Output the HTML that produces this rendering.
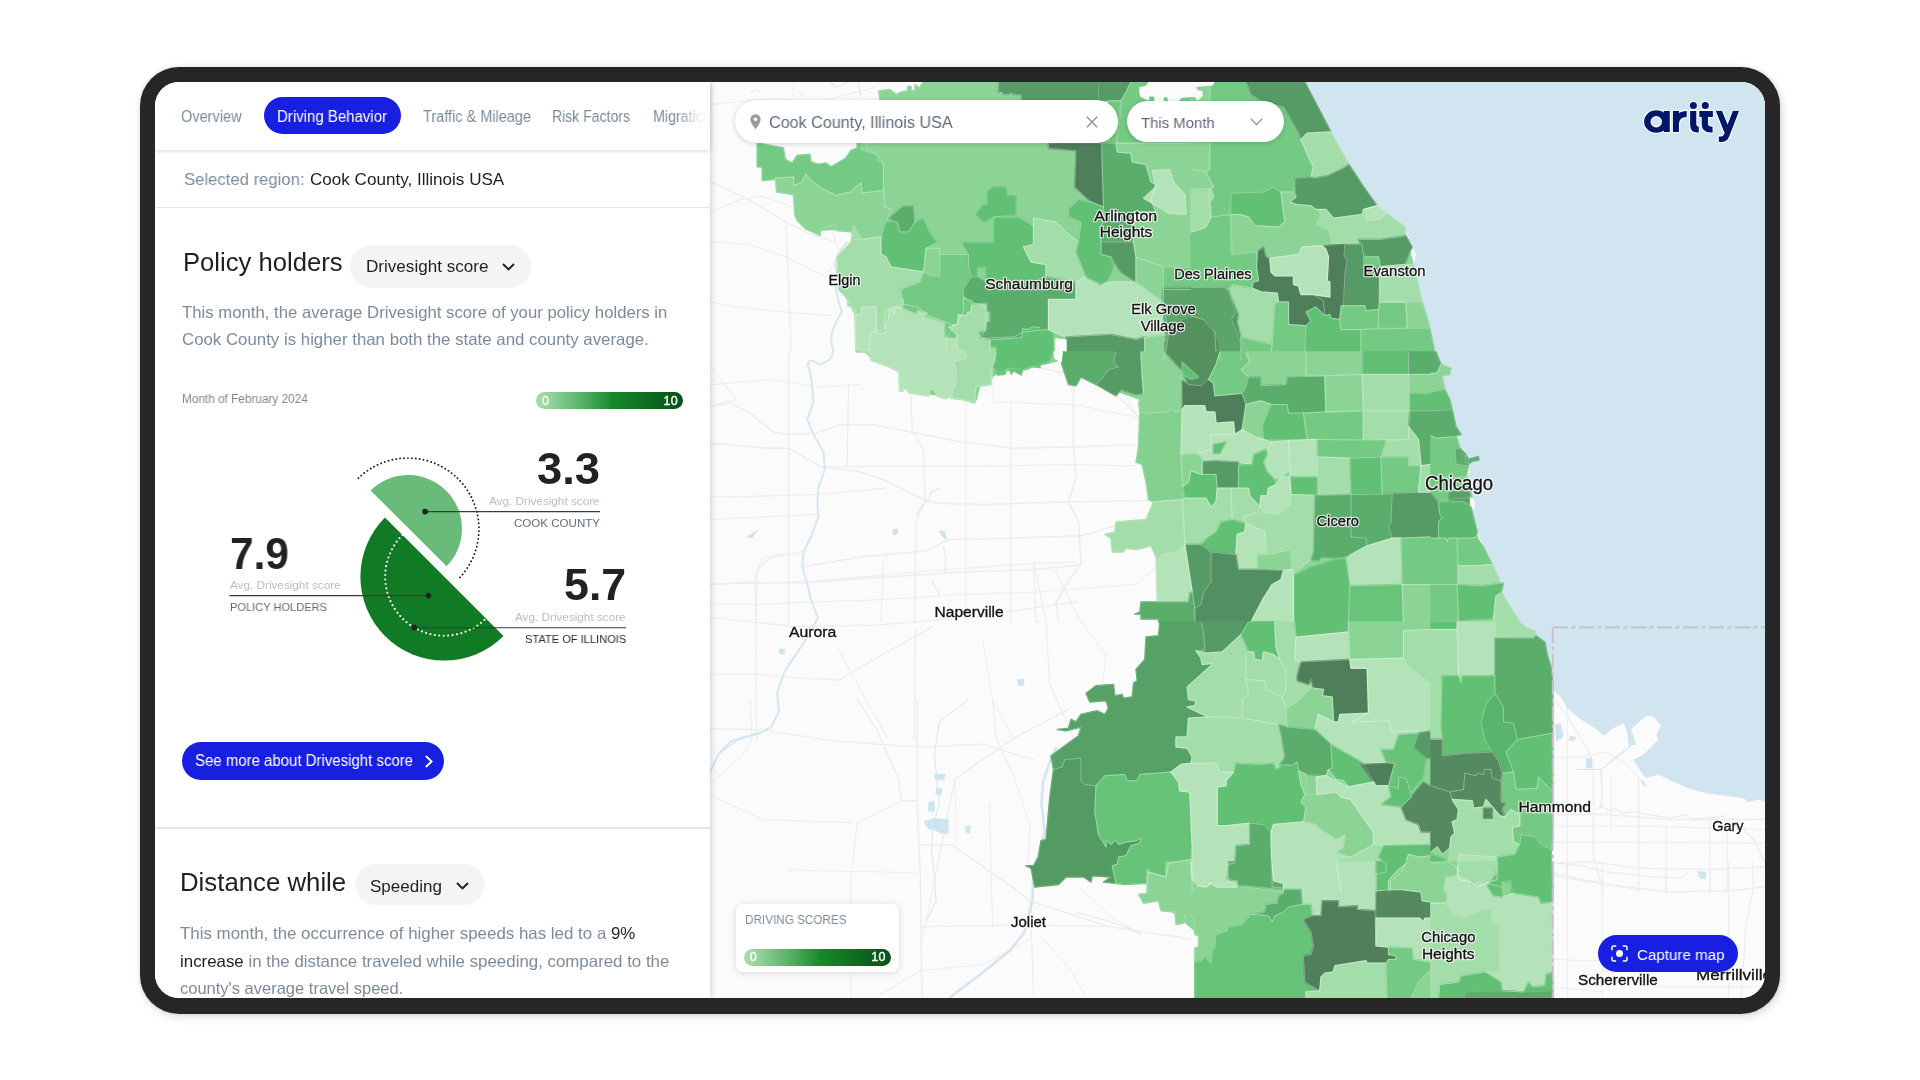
<!DOCTYPE html>
<html lang="en">
<head>
<meta charset="utf-8">
<title>Arity - Driving Behavior</title>
<style>
*{box-sizing:border-box;margin:0;padding:0}
html,body{width:1920px;height:1080px;overflow:hidden;background:#fff;font-family:"Liberation Sans",sans-serif;}
#device{position:absolute;left:140px;top:67px;width:1640px;height:947px;background:#262626;border-radius:39px;box-shadow:2px 3px 10px rgba(0,0,0,.13),0 0 4px rgba(0,0,0,.10);}
#screen{position:absolute;left:15px;top:15px;width:1610px;height:916px;border-radius:24px;overflow:hidden;background:#fafafa;}
#panel{position:absolute;left:0;top:0;width:555px;height:916px;background:#fff;z-index:5;box-shadow:1px 0 7px rgba(0,0,0,.19);}
#tabs{position:absolute;left:0;top:0;width:555px;height:68px;background:#fff;box-shadow:0 1px 4px rgba(0,0,0,.17);z-index:2;overflow:hidden;}
#tabpill{position:absolute;left:109px;top:15px;width:137px;height:37px;border-radius:19px;background:#1720e0;}
#tabfade{position:absolute;right:0;top:0;width:34px;height:66px;background:linear-gradient(90deg,rgba(255,255,255,0),rgba(255,255,255,.95) 80%);}
.t{position:absolute;white-space:nowrap;will-change:transform;}
.hr{position:absolute;left:0;width:555px;height:1.5px;background:#e4e6e9;}
.pill{position:absolute;background:#f4f4f4;border-radius:22px;}
.grad{position:absolute;width:147px;height:17px;border-radius:9px;background:linear-gradient(90deg,#a6dfa8 0%,#8fd096 12%,#4fae62 33%,#168a2a 52%,#107424 70%,#0b5a1b 90%,#0a5219 100%);}
.grad span{position:absolute;top:1.500px;font-size:12.500px;line-height:14px;color:#fff;-webkit-text-stroke:.35px #fff;letter-spacing:.3px}
.btn{position:absolute;background:#1720e0;border-radius:20px;}
#map{position:absolute;left:555px;top:0;width:1055px;height:916px;background:#fbfbfb;overflow:hidden;}
#map svg.base{position:absolute;left:0;top:0;will-change:transform;}
.ml{font-family:"Liberation Sans",sans-serif;fill:#161616;stroke:#fff;stroke-width:2.6px;paint-order:stroke;stroke-linejoin:round;text-anchor:middle;font-size:15.5px;}
.ov{position:absolute;background:#fff;box-shadow:0 1px 5px rgba(0,0,0,.18);}
</style>
</head>
<body>
<div id="device">
<div id="screen">

<div id="map">
<svg class="base" width="1055" height="916" viewBox="710 82 1055 916">
<g fill="none" stroke="#ececec" stroke-linejoin="round" stroke-linecap="round">
<path d="M711.0 405.8L729.8 403.2L748.5 412.0L773.5 432.0L788.5 434.5L816.0 433.2L841.0 424.5L871.0 424.5L911.0 432.0L961.0 442.0L1011.0 448.2L1073.5 447.0L1136.0 444.5" stroke-width="1.4"/>
<path d="M711.0 443.2L768.5 448.2L788.5 448.2L821.0 467.0L861.0 472.0L886.0 480.8L923.5 499.5L936.0 503.2L986.0 504.5L1061.0 502.0L1148.5 500.8" stroke-width="1.4"/>
<path d="M821.0 467.0L923.5 465.8L986.0 465.8L1073.5 464.5L1136.0 465.8" stroke-width="1.2"/>
<path d="M711.0 584.5L736.0 583.2L811.0 582.0L886.0 577.0L961.0 572.0L1036.0 569.5L1081.0 564.5" stroke-width="1.5"/>
<path d="M801.0 567.0L861.0 557.0L926.0 550.8L948.5 539.5L1011.0 538.2L1081.0 535.8L1111.0 527.0L1121.0 522.0" stroke-width="1.4"/>
<path d="M788.5 352.0L788.5 622.0" stroke-width="1.3"/>
<path d="M923.5 449.5L924.8 502.0L916.0 522.0L914.8 622.0" stroke-width="1.3"/>
<path d="M1073.5 387.0L1073.5 447.0L1076.0 477.0L1068.5 502.0L1078.5 522.0L1081.0 564.5L1071.0 577.0L1056.0 602.0L1058.5 622.0" stroke-width="1.5"/>
<path d="M911.0 392.0L912.2 432.0L923.5 449.5" stroke-width="1.2"/>
<path d="M848.5 384.5L847.2 467.0" stroke-width="1.2"/>
<path d="M1141.0 419.5L1111.0 389.5L1081.0 377.0L1036.0 367.0" stroke-width="1.3"/>
<path d="M711.0 497.0L771.0 495.8L816.0 494.5L886.0 488.2" stroke-width="1.2"/>
<path d="M711.0 519.5L761.0 517.0L816.0 514.5" stroke-width="1.2"/>
<path d="M966.0 397.0L966.0 622.0" stroke-width="1.0"/>
<path d="M1011.0 402.0L1011.0 622.0" stroke-width="1.0"/>
<path d="M1033.5 562.0L1036.0 622.0L1041.0 622.0" stroke-width="1.2"/>
<path d="M711.0 604.5L756.0 604.5L811.0 602.0L886.0 599.5L961.0 594.5L1036.0 592.0L1136.0 584.5L1156.0 567.0" stroke-width="1.0"/>
<path d="M756.0 622.0L757.2 569.5L771.0 557.0L801.0 554.5" stroke-width="1.2"/>
<path d="M711.0 367.0L736.0 399.5L711.0 405.8" stroke-width="1.0"/>
<path d="M711.0 384.5L773.5 379.5L821.0 387.0L861.0 384.5" stroke-width="1.0"/>
<path d="M881.0 622.0L883.5 559.5L891.0 552.0" stroke-width="1.0"/>
<path d="M1121.0 387.0L1136.0 414.5L1138.5 422.0" stroke-width="1.0"/>
<path d="M993.5 369.5L993.5 402.0L1073.5 404.5L1136.0 417.0" stroke-width="1.0"/>
<path d="M711.0 182.0L748.5 199.5L786.0 222.0L811.0 234.5L836.0 242.0" stroke-width="1.3"/>
<path d="M711.0 212.0L741.0 199.5L761.0 195.8L793.5 207.0" stroke-width="1.0"/>
<path d="M711.0 242.0L748.5 244.5L786.0 257.0L816.0 272.0L836.0 282.0" stroke-width="1.0"/>
<path d="M786.0 222.0L788.5 282.0L791.0 352.0" stroke-width="1.3"/>
<path d="M793.5 97.0L793.5 82.0" stroke-width="1.0"/>
<path d="M711.0 104.5L761.0 99.5L823.5 100.8L876.0 87.0" stroke-width="1.0"/>
<path d="M711.0 302.0L736.0 307.0L786.0 312.0L831.0 315.8" stroke-width="1.0"/>
<path d="M823.5 100.8L821.0 132.0" stroke-width="1.0"/>
<path d="M831.0 227.0L836.0 242.0L841.0 257.0L828.5 272.0" stroke-width="1.0"/>
<path d="M700.0 728.3L763.0 729.9L832.2 740.9L920.3 747.2L983.3 744.1L1033.6 759.8" stroke-width="1.3"/>
<path d="M917.2 700.0L917.2 800.7L920.3 876.3L921.9 999.0" stroke-width="1.4"/>
<path d="M939.2 857.4L955.0 778.7L1014.8 737.8L1068.3 709.4" stroke-width="1.3"/>
<path d="M857.4 700.0L876.3 728.3L898.3 778.7L901.4 800.7L917.2 800.7" stroke-width="1.2"/>
<path d="M901.4 800.7L857.4 822.8L851.1 876.3L851.1 999.0" stroke-width="1.0"/>
<path d="M920.3 844.8L951.8 844.8L1014.8 888.9L1030.5 901.4L1109.2 926.6L1191.0 939.2" stroke-width="1.3"/>
<path d="M709.4 794.4L763.0 819.6L851.1 822.8" stroke-width="1.0"/>
<path d="M920.3 926.6L1030.5 925.1L1109.2 926.6" stroke-width="1.2"/>
<path d="M920.3 970.7L983.3 964.4L1030.5 939.2" stroke-width="1.0"/>
<path d="M939.2 857.4L932.9 888.9L921.9 939.2" stroke-width="1.0"/>
<path d="M1030.5 901.4L1033.6 999.0" stroke-width="1.1"/>
<path d="M873.1 999.0L920.3 970.7" stroke-width="1.0"/>
<path d="M992.7 700.0L995.9 737.8L1014.8 778.7L1030.5 825.9L1027.4 863.7" stroke-width="1.0"/>
<path d="M750.4 700.0L751.9 740.9L740.9 756.7L712.6 781.8L700.0 791.3" stroke-width="1.0"/>
<path d="M1043.1 939.2L1071.4 970.7L1087.2 999.0" stroke-width="1.0"/>
<path d="M1080.9 888.9L1115.5 920.3L1140.7 932.9" stroke-width="1.0"/>
<path d="M788.1 870.0L851.1 871.5L917.2 872.5" stroke-width="0.9"/>
<path d="M955.0 778.7L956.5 847.9" stroke-width="0.9"/>
<path d="M989.6 803.9L991.2 876.3L992.7 926.6" stroke-width="0.9"/>
<path d="M709.4 617.2L794.4 626.6L876.3 625.1L932.9 620.3L1014.8 610.9L1077.7 601.4" stroke-width="1.2"/>
<path d="M737.8 582.6L803.9 582.6L920.3 571.5L1030.5 563.7L1077.7 562.1" stroke-width="1.2"/>
<path d="M756.7 739.9L755.1 576.3L763.0 557.4L803.9 551.1" stroke-width="1.0"/>
<path d="M838.5 648.7L863.7 695.9L888.9 739.9" stroke-width="1.0"/>
<path d="M915.6 629.8L914.0 739.9" stroke-width="1.2"/>
<path d="M1033.6 563.7L1046.2 620.3L1049.4 683.3L1074.6 739.9" stroke-width="1.1"/>
<path d="M1055.7 570.0L1077.7 617.2L1106.0 655.0L1102.9 683.3" stroke-width="1.0"/>
<path d="M785.0 677.0L838.5 680.1L876.3 658.1L932.9 626.6" stroke-width="1.1"/>
<path d="M983.3 642.4L992.7 702.2L1014.8 739.9" stroke-width="0.9"/>
<path d="M709.4 673.8L756.7 673.8L785.0 677.0" stroke-width="0.9"/>
<path d="M1552.8 814.5L1606.0 814.5L1668.5 819.5L1764.8 819.5" stroke-width="1.5"/>
<path d="M1552.8 757.0L1581.0 757.0L1606.0 752.0" stroke-width="1.0"/>
<path d="M1567.2 704.5L1567.2 892.0" stroke-width="1.0"/>
<path d="M1593.5 762.0L1593.5 857.0L1603.5 892.0" stroke-width="1.2"/>
<path d="M1638.5 777.0L1638.5 892.0" stroke-width="1.2"/>
<path d="M1666.0 825.8L1666.0 892.0" stroke-width="1.0"/>
<path d="M1709.8 819.5L1709.8 892.0" stroke-width="1.0"/>
<path d="M1727.2 827.0L1727.2 892.0" stroke-width="1.0"/>
<path d="M1556.0 702.0L1571.0 722.0L1586.0 747.0L1593.5 762.0" stroke-width="1.1"/>
<path d="M1552.8 825.8L1631.0 825.8L1764.8 829.5" stroke-width="1.0"/>
<path d="M1552.8 842.0L1764.8 843.2" stroke-width="1.0"/>
<path d="M1552.8 863.2L1593.5 862.0L1638.5 868.2L1706.0 869.5L1764.8 867.0" stroke-width="1.3"/>
<path d="M1552.8 875.8L1606.0 884.5L1638.5 889.5" stroke-width="1.0"/>
<path d="M1606.0 752.0L1623.5 762.0L1638.5 777.0" stroke-width="1.0"/>
<path d="M1743.5 829.5L1756.0 842.0L1764.8 862.0" stroke-width="1.2"/>
<path d="M1611.0 774.5L1611.0 829.5" stroke-width="0.9"/>
<path d="M1552.8 873.2L1606.0 884.5L1668.5 892.0L1731.0 890.8L1764.8 887.0" stroke-width="1.5"/>
<path d="M1567.2 862.0L1567.2 999.0" stroke-width="1.0"/>
<path d="M1602.2 862.0L1602.2 999.0" stroke-width="1.2"/>
<path d="M1638.5 862.0L1638.5 892.0" stroke-width="1.0"/>
<path d="M1666.0 862.0L1666.0 892.0" stroke-width="1.0"/>
<path d="M1709.8 862.0L1709.8 892.0" stroke-width="1.0"/>
<path d="M1728.5 862.0L1728.5 999.0" stroke-width="1.0"/>
<path d="M1752.2 862.0L1753.5 887.0L1746.0 924.5L1741.0 999.0" stroke-width="1.2"/>
<path d="M1552.8 959.5L1598.5 960.8" stroke-width="1.0"/>
<path d="M1656.0 987.0L1764.8 987.0" stroke-width="1.0"/>
<path d="M1552.8 987.0L1602.2 992.0" stroke-width="0.9"/>
</g>
<g fill="none" stroke="#d3e6f2" stroke-linejoin="round" stroke-linecap="round">
<path d="M847.0 242.0L838.0 254.0L835.0 262.0L836.0 272.0L836.0 290.0L838.0 300.0L842.0 312.0L836.0 322.0L832.0 332.0L831.3 341.0L833.0 350.0L832.3 356.0L828.5 360.5L820.6 364.5L813.8 361.3L809.6 360.6L807.5 365.0L810.0 372.0L811.5 380.0L813.5 402.0L807.3 419.5L813.5 434.5L823.5 452.0L824.8 469.5L818.5 487.0L817.3 502.0L818.5 517.0L811.0 537.0L803.5 552.0L802.3 567.0L807.3 584.5L811.0 599.5L818.0 618.0L810.0 632.0L803.9 642.4L785.0 670.7L777.1 692.7L779.0 711.6L770.8 727.3L760.0 733.0L747.2 736.8L731.5 741.0L718.9 753.5L710.0 772.0" stroke-width="1.9"/>
<path d="M1056.0 748.0L1051.0 758.2L1043.1 781.8L1041.5 803.9L1044.7 832.2L1040.0 847.9L1033.7 870.0L1032.1 901.4L1028.0 920.0L1024.2 932.9L1008.5 951.8L977.0 977.0L951.8 995.9L948.0 1000.0" stroke-width="2.6"/>
<path d="M967.6 700.0L939.2 722.0L934.5 753.5L939.2 803.9L932.9 825.9L931.4 851.1L934.5 876.3L936.1 901.4L926.6 920.3" stroke-width="1.0"/>
<path d="M751.0 92.0L756.0 89.5L761.0 93.2" stroke-width="1.0"/>
<path d="M831.0 82.0L834.8 87.0L841.0 85.8L847.2 82.0" stroke-width="1.2"/>
<path d="M858.5 82.0L861.0 97.0" stroke-width="1.0"/>
<path d="M798.5 92.0L803.5 95.8" stroke-width="1.0"/>
<path d="M939.8 488.2L931.0 492.0L928.5 499.5L921.0 507.0L917.2 514.5" stroke-width="1.0"/>
<path d="M943.5 547.0L946.0 559.5L944.8 572.0" stroke-width="0.8"/>
<path d="M932.2 580.8L934.8 587.0L939.8 595.8" stroke-width="0.8"/>
<path d="M709.4 774.0L718.9 753.5L740.9 737.8L763.0 731.5" stroke-width="1.2"/>
<path d="M1077.7 912.5L1106.0 920.3L1124.9 926.6L1140.7 934.5" stroke-width="0.9"/>
<path d="M1606.0 765.8L1626.0 749.5L1631.0 745.8" stroke-width="1.2"/>
<path d="M1601.0 769.5L1602.2 797.0L1601.0 808.2" stroke-width="1.0"/>
<path d="M1577.2 769.5L1601.0 769.5L1606.0 765.8" stroke-width="1.0"/>
<path d="M1596.0 809.5L1602.2 805.8L1608.5 810.8L1616.0 808.2L1621.0 813.2L1636.0 812.0L1656.0 815.8L1671.0 818.2L1686.0 814.5L1691.0 819.5L1718.5 817.0L1726.0 815.8" stroke-width="0.9"/>
<path d="M1558.5 863.2L1581.0 865.8L1606.0 872.0L1631.0 874.5L1656.0 877.0L1681.0 878.2L1688.5 872.0" stroke-width="0.8"/>
</g>
<g fill="#cfe4f1">
<path d="M934.5 774.0L945.5 774.0L944.0 780.5L934.5 779.0Z"/>
<path d="M936.0 788.0L942.6 788.0L941.0 796.0L935.4 794.5Z"/>
<path d="M928.2 802.3L934.7 800.7L934.7 811.7L928.2 811.7Z"/>
<path d="M923.5 821.2L934.5 818.0L948.7 819.6L948.7 833.8L941.0 833.8L934.5 830.0L928.0 829.0Z"/>
<path d="M965.0 826.0L971.0 825.5L969.5 832.0L966.0 831.5Z"/>
<path d="M892.2 529.5L897.2 528.2L898.5 533.2L894.8 535.8L892.8 534.0Z"/>
<path d="M938.5 530.8L944.8 530.8L947.2 539.5L943.5 538.2Z"/>
<path d="M746.0 537.0L758.5 529.5L752.2 538.2Z"/>
<path d="M778.7 648.7L785.0 648.7L785.0 654.3L779.3 654.3Z"/>
<path d="M1017.3 679.5L1023.6 679.5L1023.6 685.8L1017.9 685.8Z"/>
<path d="M1017.2 679.0L1024.2 679.0L1024.2 685.0L1017.8 685.0Z"/>
<path d="M965.2 826.5L970.5 826.5L969.8 833.2L965.5 832.5Z"/>
<path d="M1554.8 724.5L1561.0 723.2L1563.5 737.0L1556.0 742.0Z"/>
<path d="M1569.8 735.8L1576.0 737.0L1574.8 740.8L1568.5 740.8Z"/>
<path d="M1586.0 758.2L1592.2 758.2L1592.2 768.2L1586.0 768.2Z"/>
<path d="M1697.2 870.8L1706.0 872.0L1706.0 879.5L1699.8 878.2Z"/>
<path d="M1639.8 779.5L1643.5 780.8L1647.2 787.0L1643.5 785.8Z"/>
</g>
<path d="M1304.8 82.0L1331.0 132.0L1348.5 164.5L1363.5 187.0L1377.2 205.8L1404.8 227.0L1412.2 247.0L1416.0 254.5L1413.5 264.5L1417.2 279.5L1422.2 302.0L1428.5 322.0L1434.8 352.0L1436.0 352.0L1441.0 364.5L1451.0 368.2L1449.8 374.5L1442.2 375.8L1444.8 389.5L1449.8 399.5L1452.2 412.0L1456.0 427.0L1461.0 434.5L1457.2 438.2L1459.8 448.2L1466.0 454.5L1468.5 459.5L1478.5 457.0L1478.5 460.8L1472.2 462.0L1468.5 467.0L1469.8 472.0L1466.0 477.0L1472.2 497.0L1474.8 502.0L1474.8 509.5L1472.2 508.2L1477.2 532.0L1483.5 547.0L1492.2 564.5L1498.5 577.0L1503.5 583.2L1501.0 593.2L1507.2 602.0L1513.5 612.0L1519.8 622.0L1527.2 628.2L1534.8 630.8L1536.0 635.8L1544.8 642.0L1547.2 654.5L1551.0 667.0L1552.8 682.0L1552.8 689.5L1561.0 697.0L1567.2 708.2L1581.0 719.5L1593.5 727.0L1603.5 735.8L1613.5 728.2L1623.5 723.2L1627.2 732.0L1628.5 745.8L1636.0 744.5L1631.0 729.5L1646.0 715.8L1653.5 717.0L1661.0 725.8L1656.0 734.5L1658.5 739.5L1643.5 754.5L1633.5 759.5L1641.0 772.0L1646.0 778.2L1658.5 774.5L1671.0 780.8L1688.5 788.2L1706.0 793.2L1726.0 795.8L1743.5 798.2L1748.5 802.0L1758.5 799.5L1766.0 802.0L1766.0 80.0L1304.0 80.0Z" fill="#d1e5f0"/>

<g stroke-width="1.4" stroke-linejoin="round">
<path d="M900.0 150.0L1290.0 90.0L1330.0 135.0L1375.0 205.0L1403.0 228.0L1412.0 260.0L1430.0 340.0L1442.0 385.0L1455.0 430.0L1464.0 478.0L1474.0 530.0L1490.0 565.0L1500.0 590.0L1517.0 621.0L1543.0 642.0L1551.0 680.0L1551.0 998.0L1200.0 998.0L1200.0 935.0L1165.0 905.0L1150.0 880.0L1125.0 875.0L1060.0 876.0L1040.0 880.0L1050.0 840.0L1057.0 770.0L1056.0 757.0L1081.0 737.0L1085.0 728.0L1100.0 716.0L1112.0 712.0L1117.0 698.0L1122.0 700.0L1135.0 699.0L1136.0 685.0L1140.0 682.0L1139.0 671.0L1147.0 660.0L1148.0 639.0L1160.0 637.0L1162.0 625.0L1160.0 560.0L1155.0 505.0L1145.0 465.0L1142.0 400.0L1120.0 392.0L1100.0 384.0L1060.0 360.0L1045.0 364.0L1000.0 372.0L980.0 384.0L976.0 400.0L930.0 394.0L902.0 388.0L900.0 372.0L872.0 358.0L858.0 345.0L856.0 315.0L842.0 290.0L840.0 258.0L853.0 242.0L856.0 228.0L822.0 230.0L808.0 228.0L797.0 214.0L796.0 196.0L778.0 190.0L778.0 180.0L764.0 178.0L764.0 168.0L760.0 166.0L760.0 146.0L782.0 149.0L786.0 160.0L793.0 165.0L798.0 157.0L809.0 156.0L811.0 163.0L819.0 166.0L826.0 165.0L831.0 168.0L847.0 160.0L852.0 152.0L859.0 149.0L859.0 146.0L900.0 146.0Z" fill="#8bd495" stroke="#8bd495"/>
<path d="M878.8 90.8L890.0 89.5L896.2 94.5L901.2 92.0L907.5 90.8L907.5 86.4L911.2 86.4L911.2 90.8L915.0 90.1L915.0 84.5L920.0 88.2L921.2 84.5L923.8 82.0L998.8 82.0L998.1 92.0L1002.5 92.6L1003.1 94.5L1008.8 94.5L1011.2 92.6L1013.1 94.5L1021.2 95.1L1021.2 100.8L880.0 100.8Z" fill="#8bd495" stroke="#8bd495"/>
<path d="M998.8 82.0L1100.0 82.0L1100.0 100.8L1021.2 100.8L1021.2 95.1L1013.1 94.5L1011.2 92.6L1008.8 94.5L1003.1 94.5L1002.5 92.6L998.1 92.0Z" fill="#569b65" stroke="#569b65"/>
<path d="M1098.5 82.0L1131.0 82.0L1126.0 92.0L1121.0 100.8L1098.5 100.8Z" fill="#569b65" stroke="#569b65"/>
<path d="M1108.5 100.8L1122.2 100.8L1117.2 143.2L1108.5 143.2Z" fill="#74ca82" stroke="#74ca82"/>
<path d="M1131.0 82.0L1191.0 82.0L1191.0 143.2L1116.0 143.2L1121.0 100.8L1126.0 92.0Z" fill="#74ca82" stroke="#74ca82"/>
<path d="M757.2 143.0L783.5 148.0L784.8 159.2L792.2 163.0L797.2 155.5L809.8 154.2L811.0 161.8L818.5 164.2L826.0 163.0L831.0 166.8L846.0 158.0L851.0 150.5L857.2 148.0L857.2 143.0L866.0 143.0L867.2 149.2L876.0 153.0L877.2 161.8L883.5 164.2L883.5 190.5L862.2 193.0L861.0 183.0L856.0 186.8L851.0 191.8L836.0 195.5L821.0 188.0L811.0 180.5L806.0 174.2L801.0 183.0L793.5 185.5L793.5 176.8L775.5 178.0L774.8 179.2L762.2 180.5L762.2 166.8L757.2 166.8Z" fill="#74ca82" stroke="#74ca82"/>
<path d="M775.5 178.2L793.5 177.0L793.5 185.5L801.0 183.0L806.0 174.2L811.0 180.5L821.0 188.0L836.0 195.5L851.0 191.8L856.0 186.8L861.0 183.0L862.2 193.0L883.5 190.5L884.8 207.0L891.0 209.5L886.0 222.0L881.0 237.0L861.0 239.5L854.8 239.2L851.0 231.8L836.0 230.5L836.0 224.2L821.0 229.2L820.2 235.5L806.0 229.2L797.2 220.5L794.8 215.5L793.5 194.5L776.5 192.0Z" fill="#8bd495" stroke="#8bd495"/>
<path d="M861.0 143.2L1048.5 143.2L1048.5 148.2L1076.0 150.8L1074.8 187.0L1091.0 202.0L1078.5 199.5L1068.5 209.5L1068.5 217.0L1081.0 222.0L1078.5 242.0L1066.0 232.0L1056.0 222.0L1033.5 218.2L1033.5 225.8L1018.5 217.0L993.5 217.0L993.5 242.0L961.0 242.0L968.5 254.5L939.8 254.5L939.8 248.2L926.0 248.2L937.2 242.0L931.0 234.5L923.5 218.2L914.8 222.0L913.5 205.8L903.5 205.8L888.5 218.2L891.0 209.5L884.8 207.0L883.5 192.0L883.5 164.5L877.2 154.5L861.0 149.5Z" fill="#8bd495" stroke="#8bd495"/>
<path d="M888.5 218.2L903.5 205.8L913.5 205.8L914.8 222.0L908.5 232.0L899.8 232.0L897.2 222.0Z" fill="#5aad6b" stroke="#5aad6b"/>
<path d="M886.0 222.0L897.2 222.0L899.8 232.0L908.5 232.0L914.8 222.0L923.5 218.2L931.0 234.5L937.2 242.0L926.0 248.2L923.5 272.0L891.0 267.0L886.0 257.0L881.0 254.5L881.0 237.0Z" fill="#62c074" stroke="#62c074"/>
<path d="M926.0 248.2L939.8 248.2L939.8 275.8L931.0 275.8L923.5 272.0Z" fill="#8bd495" stroke="#8bd495"/>
<path d="M837.2 257.0L851.0 242.0L853.5 225.8L861.0 239.5L881.0 237.0L881.0 254.5L886.0 257.0L891.0 267.0L923.5 272.0L919.8 282.0L901.0 289.5L903.5 304.5L886.0 309.5L883.5 329.5L871.0 332.0L868.5 352.0L856.0 352.0L854.8 314.5L848.0 299.5L838.5 289.5Z" fill="#a3ddaa" stroke="#a3ddaa"/>
<path d="M923.5 272.0L931.0 275.8L939.8 275.8L939.8 254.5L968.5 254.5L968.5 267.0L971.0 277.0L963.5 289.5L963.5 312.0L954.8 325.8L946.0 322.0L926.0 314.5L918.5 307.0L903.5 304.5L901.0 289.5L919.8 282.0Z" fill="#74ca82" stroke="#74ca82"/>
<path d="M961.0 242.0L993.5 242.0L993.5 217.0L1018.5 217.0L1033.5 225.8L1033.5 244.5L1023.5 247.0L1031.0 262.0L1046.0 264.5L1046.0 277.0L1031.0 282.0L986.0 282.0L986.0 267.0L977.2 267.0L977.2 277.0L971.0 277.0L968.5 267.0L968.5 254.5Z" fill="#62c074" stroke="#62c074"/>
<path d="M987.2 192.0L993.5 187.0L1006.0 187.0L1007.2 195.8L1016.0 195.8L1016.0 214.5L993.5 217.0L983.5 222.0L976.0 214.5L983.5 204.5L987.2 204.5Z" fill="#62c074" stroke="#62c074"/>
<path d="M1033.5 218.2L1056.0 222.0L1066.0 232.0L1078.5 242.0L1076.0 252.0L1086.0 277.0L1076.0 282.0L1046.0 277.0L1046.0 264.5L1031.0 262.0L1023.5 247.0L1033.5 244.5Z" fill="#a3ddaa" stroke="#a3ddaa"/>
<path d="M963.5 289.5L971.0 277.0L977.2 277.0L986.0 282.0L1031.0 282.0L1046.0 277.0L1076.0 282.0L1076.0 299.5L1048.5 299.5L1048.5 329.5L1023.5 332.0L1013.5 337.0L981.0 338.2L986.0 327.0L986.0 307.0L971.0 302.0L963.5 297.0Z" fill="#5aad6b" stroke="#5aad6b"/>
<path d="M981.0 338.2L1013.5 337.0L1023.5 332.0L1048.5 329.5L1053.5 332.0L1053.5 352.0L989.8 352.0L989.8 339.5Z" fill="#62c074" stroke="#62c074"/>
<path d="M1048.5 299.5L1076.0 299.5L1076.0 282.0L1086.0 277.0L1101.0 284.5L1111.0 282.0L1136.0 282.0L1163.5 302.0L1168.5 334.5L1136.0 339.5L1111.0 334.5L1066.0 337.0L1053.5 332.0L1048.5 329.5Z" fill="#b4e3b9" stroke="#b4e3b9"/>
<path d="M883.5 329.5L886.0 309.5L903.5 304.5L918.5 307.0L926.0 314.5L946.0 322.0L954.8 325.8L946.0 337.0L946.0 352.0L868.5 352.0L871.0 332.0Z" fill="#a3ddaa" stroke="#a3ddaa"/>
<path d="M954.8 325.8L963.5 312.0L963.5 297.0L971.0 302.0L986.0 307.0L986.0 327.0L981.0 338.2L989.8 339.5L989.8 352.0L946.0 352.0L946.0 337.0Z" fill="#8bd495" stroke="#8bd495"/>
<path d="M1048.5 143.2L1101.0 143.2L1102.2 164.5L1103.5 207.0L1091.0 202.0L1074.8 187.0L1076.0 150.8L1048.5 148.2Z" fill="#4f7e5b" stroke="#4f7e5b"/>
<path d="M1102.2 143.2L1116.0 143.2L1117.2 152.0L1131.0 153.2L1132.2 162.0L1146.0 164.5L1151.0 182.0L1156.0 184.5L1151.0 199.5L1156.0 212.0L1133.5 212.0L1133.5 242.0L1101.0 242.0L1103.5 207.0L1102.2 164.5Z" fill="#5aad6b" stroke="#5aad6b"/>
<path d="M1101.0 242.0L1133.5 242.0L1136.0 257.0L1136.0 282.0L1121.0 272.0L1111.0 257.0L1101.0 254.5Z" fill="#569b65" stroke="#569b65"/>
<path d="M1068.5 209.5L1078.5 199.5L1091.0 202.0L1103.5 207.0L1101.0 242.0L1101.0 254.5L1111.0 257.0L1113.5 267.0L1108.5 279.5L1101.0 284.5L1086.0 277.0L1076.0 252.0L1078.5 242.0L1081.0 222.0L1068.5 217.0Z" fill="#62c074" stroke="#62c074"/>
<path d="M1116.0 143.2L1191.0 143.2L1191.0 267.0L1163.5 267.0L1136.0 257.0L1133.5 242.0L1133.5 212.0L1156.0 212.0L1151.0 199.5L1156.0 184.5L1151.0 182.0L1146.0 164.5L1132.2 162.0L1131.0 153.2L1117.2 152.0Z" fill="#8bd495" stroke="#8bd495"/>
<path d="M1152.2 170.8L1169.8 169.5L1173.5 182.0L1184.8 194.5L1186.0 214.5L1168.5 213.2L1158.5 207.0L1143.5 198.2L1156.0 187.0Z" fill="#b4e3b9" stroke="#b4e3b9"/>
<path d="M1136.0 257.0L1163.5 267.0L1163.5 302.0L1136.0 282.0Z" fill="#8bd495" stroke="#8bd495"/>
<path d="M1163.5 267.0L1191.0 267.0L1191.0 289.5L1163.5 289.5Z" fill="#74ca82" stroke="#74ca82"/>
<path d="M1163.5 289.5L1191.0 289.5L1191.0 352.0L1166.0 352.0L1168.5 334.5L1163.5 302.0Z" fill="#569b65" stroke="#569b65"/>
<path d="M1066.0 337.0L1111.0 334.5L1136.0 339.5L1144.8 337.0L1144.8 352.0L1066.0 352.0Z" fill="#569b65" stroke="#569b65"/>
<path d="M1144.8 337.0L1168.5 334.5L1166.0 352.0L1144.8 352.0Z" fill="#8bd495" stroke="#8bd495"/>
<path d="M1055.5 339.0L1066.0 340.0L1066.0 352.0L1055.5 352.0Z" fill="#fbfbfb" stroke="#fbfbfb"/>
<path d="M1209.8 82.0L1246.0 82.0L1251.0 94.5L1261.0 100.8L1283.5 107.0L1298.5 133.2L1301.0 139.5L1308.5 157.0L1313.5 167.0L1311.0 177.0L1294.8 178.2L1293.5 192.0L1281.0 192.0L1273.5 187.0L1263.5 192.0L1231.0 193.2L1229.8 214.5L1211.0 217.0L1208.5 189.5L1213.5 187.0L1206.0 172.0L1209.8 169.5Z" fill="#74ca82" stroke="#74ca82"/>
<path d="M1191.0 82.0L1209.8 82.0L1209.8 169.5L1206.0 172.0L1191.0 169.5Z" fill="#8bd495" stroke="#8bd495"/>
<path d="M1246.0 82.0L1304.8 82.0L1331.0 132.0L1307.2 133.2L1301.0 139.5L1298.5 133.2L1283.5 107.0L1261.0 100.8L1251.0 94.5Z" fill="#569b65" stroke="#569b65"/>
<path d="M1307.2 133.2L1331.0 132.0L1348.5 164.5L1343.5 168.2L1327.2 175.8L1313.5 178.2L1311.0 177.0L1313.5 167.0L1308.5 157.0L1301.0 139.5Z" fill="#a3ddaa" stroke="#a3ddaa"/>
<path d="M1294.8 178.2L1311.0 177.0L1313.5 178.2L1327.2 175.8L1343.5 168.2L1348.5 164.5L1363.5 187.0L1377.2 205.8L1363.5 209.5L1362.2 214.5L1333.5 218.2L1326.0 209.5L1316.0 209.5L1311.0 205.8L1296.0 204.5L1289.8 202.0L1296.0 197.0Z" fill="#569b65" stroke="#569b65"/>
<path d="M1316.0 209.5L1326.0 209.5L1333.5 218.2L1362.2 214.5L1363.5 209.5L1377.2 205.8L1404.8 227.0L1406.0 235.8L1381.0 239.5L1358.5 239.5L1358.0 243.2L1332.2 243.2L1328.5 229.5L1316.0 224.5L1321.0 214.5Z" fill="#a3ddaa" stroke="#a3ddaa"/>
<path d="M1364.8 209.5L1377.2 205.8L1386.0 213.2L1381.0 218.2L1367.2 220.8Z" fill="#b4e3b9" stroke="#b4e3b9"/>
<path d="M1231.0 193.2L1263.5 192.0L1273.5 187.0L1281.0 192.0L1284.8 222.0L1278.5 227.0L1254.8 225.8L1248.5 217.0L1239.8 214.5L1231.0 214.5Z" fill="#62c074" stroke="#62c074"/>
<path d="M1281.0 192.0L1293.5 192.0L1296.0 197.0L1289.8 202.0L1296.0 204.5L1311.0 205.8L1316.0 209.5L1321.0 214.5L1316.0 224.5L1328.5 229.5L1332.2 243.2L1322.2 245.8L1302.2 247.0L1298.5 254.5L1269.8 258.2L1266.0 257.0L1263.5 247.0L1257.2 252.0L1232.2 254.5L1231.0 214.5L1239.8 214.5L1248.5 217.0L1254.8 225.8L1278.5 227.0L1284.8 222.0Z" fill="#8bd495" stroke="#8bd495"/>
<path d="M1358.0 239.5L1381.0 239.5L1406.0 235.8L1412.2 247.0L1408.5 254.5L1404.8 264.5L1381.0 265.8L1378.5 257.0L1363.5 255.8L1362.2 244.5Z" fill="#569b65" stroke="#569b65"/>
<path d="M1363.5 257.0L1378.5 257.0L1379.8 267.0L1363.5 267.0Z" fill="#74ca82" stroke="#74ca82"/>
<path d="M1344.8 244.5L1362.2 244.5L1363.5 255.8L1363.5 267.0L1379.8 267.0L1378.5 309.5L1366.0 310.8L1364.8 305.8L1343.5 305.8L1344.8 274.5L1347.2 258.2L1344.0 257.0Z" fill="#569b65" stroke="#569b65"/>
<path d="M1322.2 245.8L1344.8 244.5L1344.0 257.0L1347.2 258.2L1344.8 274.5L1343.5 305.8L1339.8 319.5L1331.0 318.2L1329.8 314.5L1324.8 315.8L1323.5 300.8L1313.5 294.5L1329.8 297.0L1329.8 282.0L1327.2 280.8L1328.5 257.0L1326.0 249.5Z" fill="#4f7e5b" stroke="#4f7e5b"/>
<path d="M1257.2 252.0L1263.5 247.0L1266.0 257.0L1269.8 258.2L1271.0 272.0L1274.8 275.8L1293.5 275.8L1293.5 284.5L1298.5 285.8L1301.0 294.5L1313.5 294.5L1323.5 300.8L1324.8 315.8L1316.0 307.0L1306.0 312.0L1311.0 320.8L1306.0 325.8L1288.5 324.5L1288.5 302.0L1278.5 302.0L1277.2 293.2L1261.0 292.0L1252.2 288.2L1253.0 282.0L1258.5 280.8L1256.5 267.0Z" fill="#4f7e5b" stroke="#4f7e5b"/>
<path d="M1269.8 258.2L1298.5 254.5L1302.2 247.0L1322.2 245.8L1326.0 249.5L1328.5 257.0L1327.2 280.8L1329.8 282.0L1329.8 297.0L1313.5 294.5L1301.0 294.5L1298.5 285.8L1293.5 284.5L1293.5 275.8L1274.8 275.8L1271.0 272.0Z" fill="#b4e3b9" stroke="#b4e3b9"/>
<path d="M1228.5 289.5L1232.2 284.5L1252.2 288.2L1261.0 292.0L1277.2 293.2L1278.5 302.0L1274.8 304.5L1272.2 344.5L1241.0 337.0L1237.2 322.0L1238.5 314.5L1232.2 299.5Z" fill="#a3ddaa" stroke="#a3ddaa"/>
<path d="M1274.8 304.5L1278.5 302.0L1288.5 302.0L1288.5 324.5L1306.0 325.8L1304.8 352.0L1271.0 352.0L1272.2 344.5Z" fill="#74ca82" stroke="#74ca82"/>
<path d="M1306.0 312.0L1316.0 307.0L1324.8 315.8L1329.8 314.5L1331.0 318.2L1339.8 319.5L1341.0 329.5L1361.0 329.5L1361.0 352.0L1304.8 352.0L1306.0 325.8L1311.0 320.8Z" fill="#62c074" stroke="#62c074"/>
<path d="M1341.0 305.8L1364.8 305.8L1366.0 310.8L1378.5 309.5L1378.5 328.2L1361.0 329.5L1341.0 329.5L1339.8 319.5Z" fill="#74ca82" stroke="#74ca82"/>
<path d="M1379.8 302.0L1406.0 302.0L1407.2 328.2L1378.5 328.2L1378.5 309.5Z" fill="#74ca82" stroke="#74ca82"/>
<path d="M1379.8 267.0L1404.8 264.5L1413.5 264.5L1417.2 279.5L1422.2 302.0L1406.0 302.0L1379.8 302.0Z" fill="#a3ddaa" stroke="#a3ddaa"/>
<path d="M1406.0 302.0L1422.2 302.0L1428.5 322.0L1429.8 328.2L1407.2 328.2Z" fill="#8bd495" stroke="#8bd495"/>
<path d="M1361.0 329.5L1407.2 328.2L1429.8 328.2L1434.8 352.0L1361.0 352.0Z" fill="#74ca82" stroke="#74ca82"/>
<path d="M1191.0 232.0L1206.0 227.0L1211.0 217.0L1229.8 214.5L1231.0 254.5L1232.2 254.5L1257.2 252.0L1256.5 267.0L1258.5 280.8L1253.0 282.0L1252.2 288.2L1232.2 284.5L1228.5 289.5L1223.5 287.0L1191.0 287.0Z" fill="#74ca82" stroke="#74ca82"/>
<path d="M1191.0 189.5L1211.0 188.2L1213.5 197.0L1209.8 202.0L1211.0 217.0L1206.0 227.0L1191.0 232.0Z" fill="#a3ddaa" stroke="#a3ddaa"/>
<path d="M1191.0 287.0L1223.5 287.0L1228.5 289.5L1232.2 299.5L1238.5 314.5L1237.2 322.0L1241.0 337.0L1241.0 352.0L1216.0 352.0L1214.8 332.0L1203.5 319.5L1191.0 315.8Z" fill="#569b65" stroke="#569b65"/>
<path d="M1191.0 315.8L1203.5 319.5L1214.8 332.0L1216.0 352.0L1191.0 352.0Z" fill="#4f7e5b" stroke="#4f7e5b"/>
<path d="M1241.0 337.0L1272.2 344.5L1271.0 352.0L1241.0 352.0Z" fill="#74ca82" stroke="#74ca82"/>
<path d="M1191.0 169.5L1206.0 172.0L1213.5 187.0L1208.5 189.5L1191.0 189.5Z" fill="#8bd495" stroke="#8bd495"/>
<path d="M1163.2 287.7L1224.4 286.7L1228.4 289.7L1235.6 313.2L1231.5 319.3L1240.7 343.7L1240.7 360.0L1162.2 360.0L1166.3 343.7L1162.2 298.9Z" fill="#5ba56b" stroke="#5ba56b"/>
<path d="M1165.3 360.0L1164.7 343.7L1170.4 329.4L1180.6 320.3L1192.8 316.2L1205.0 319.3L1213.2 327.4L1219.3 343.7L1220.3 360.0Z" fill="#54915f" stroke="#54915f"/>
<path d="M1140.0 87.6L1146.2 86.4L1149.4 82.0L1213.8 82.0L1212.5 84.8L1203.8 85.5L1195.6 86.4L1196.5 90.5L1201.9 92.0L1201.9 96.0L1197.8 99.8L1195.0 96.0L1181.9 97.0L1177.8 100.8L1168.5 100.8L1167.8 96.5L1163.1 96.5L1163.1 100.8L1155.0 100.8L1155.0 95.8L1149.0 95.8L1148.1 99.5L1141.2 96.4L1140.0 93.2Z" fill="#fbfbfb" stroke="#fbfbfb"/>
<path d="M951.0 352.0L996.0 352.0L992.2 367.0L991.0 384.5L976.0 387.0L973.5 400.8L951.0 398.2Z" fill="#a3ddaa" stroke="#a3ddaa"/>
<path d="M996.0 352.0L1053.5 352.0L1048.5 362.0L1023.5 369.5L1008.5 368.2L1001.0 373.2L992.2 367.0Z" fill="#62c074" stroke="#62c074"/>
<path d="M1062.2 352.0L1116.0 352.0L1113.5 362.0L1118.5 367.0L1108.5 369.5L1103.5 377.0L1096.0 384.5L1081.0 377.0L1076.0 385.8L1068.5 384.5L1061.0 362.0Z" fill="#5aad6b" stroke="#5aad6b"/>
<path d="M1116.0 352.0L1141.0 352.0L1142.2 377.0L1143.5 393.2L1136.0 394.5L1121.0 389.5L1116.0 395.8L1096.0 384.5L1103.5 377.0L1108.5 369.5L1118.5 367.0L1113.5 362.0Z" fill="#569b65" stroke="#569b65"/>
<path d="M1141.0 352.0L1164.8 352.0L1181.0 369.5L1182.2 409.5L1174.8 412.0L1171.0 408.2L1168.5 412.0L1146.0 413.2L1139.8 412.0L1138.5 402.0L1144.8 395.8L1143.5 393.2L1142.2 377.0Z" fill="#8bd495" stroke="#8bd495"/>
<path d="M1139.8 412.0L1146.0 413.2L1168.5 412.0L1171.0 408.2L1174.8 412.0L1182.2 409.5L1181.0 454.5L1183.5 484.5L1182.2 499.5L1153.5 502.0L1148.5 499.5L1146.0 482.0L1142.2 464.5L1136.0 462.0L1138.5 447.0Z" fill="#84d08f" stroke="#84d08f"/>
<path d="M1164.8 352.0L1219.8 352.0L1216.0 364.5L1208.5 379.5L1201.0 385.8L1188.5 384.5L1181.0 369.5Z" fill="#54915f" stroke="#54915f"/>
<path d="M1182.2 362.0L1198.5 377.0L1191.0 379.5L1182.2 374.5Z" fill="#62c074" stroke="#62c074"/>
<path d="M1182.2 380.8L1188.5 384.5L1201.0 385.8L1208.5 379.5L1213.5 383.2L1214.8 395.8L1242.2 393.2L1246.0 404.5L1242.2 429.5L1234.8 434.5L1233.5 422.0L1216.0 423.2L1214.8 412.0L1206.0 412.0L1204.8 405.8L1184.8 405.8L1182.2 409.5Z" fill="#4f7e5b" stroke="#4f7e5b"/>
<path d="M1219.8 352.0L1246.0 352.0L1249.8 362.0L1241.0 369.5L1248.5 377.0L1246.0 387.0L1242.2 393.2L1214.8 395.8L1213.5 383.2L1208.5 379.5L1216.0 364.5Z" fill="#74ca82" stroke="#74ca82"/>
<path d="M1246.0 352.0L1306.0 352.0L1306.0 375.8L1287.2 377.0L1286.0 384.5L1261.0 385.8L1261.0 377.0L1248.5 377.0L1241.0 369.5L1249.8 362.0Z" fill="#8bd495" stroke="#8bd495"/>
<path d="M1246.0 387.0L1248.5 377.0L1261.0 377.0L1261.0 385.8L1286.0 384.5L1287.2 377.0L1324.8 375.8L1326.0 412.0L1288.5 413.2L1287.2 404.5L1271.0 404.5L1261.0 400.8L1246.0 404.5L1242.2 393.2Z" fill="#5aad6b" stroke="#5aad6b"/>
<path d="M1182.2 409.5L1184.8 405.8L1204.8 405.8L1206.0 412.0L1214.8 412.0L1216.0 423.2L1233.5 422.0L1234.8 434.5L1211.0 434.5L1211.0 449.5L1197.2 453.2L1181.0 454.5Z" fill="#b4e3b9" stroke="#b4e3b9"/>
<path d="M1246.0 404.5L1261.0 400.8L1271.0 404.5L1262.2 425.8L1263.5 439.5L1254.8 437.0L1242.2 429.5Z" fill="#8bd495" stroke="#8bd495"/>
<path d="M1271.0 404.5L1287.2 404.5L1288.5 413.2L1303.5 413.2L1307.2 439.5L1263.5 439.5L1262.2 425.8Z" fill="#62c074" stroke="#62c074"/>
<path d="M1303.5 413.2L1326.0 412.0L1362.2 410.8L1363.5 439.5L1307.2 439.5Z" fill="#74ca82" stroke="#74ca82"/>
<path d="M1306.0 352.0L1362.2 352.0L1362.2 374.5L1324.8 375.8L1306.0 375.8Z" fill="#8bd495" stroke="#8bd495"/>
<path d="M1362.2 352.0L1408.5 352.0L1408.5 374.5L1362.2 374.5Z" fill="#62c074" stroke="#62c074"/>
<path d="M1408.5 352.0L1431.0 352.0L1431.0 374.5L1408.5 374.5Z" fill="#5aad6b" stroke="#5aad6b"/>
<path d="M1324.8 375.8L1362.2 374.5L1363.5 410.8L1326.0 412.0Z" fill="#8bd495" stroke="#8bd495"/>
<path d="M1362.2 374.5L1408.5 374.5L1409.8 410.8L1363.5 410.8Z" fill="#a3ddaa" stroke="#a3ddaa"/>
<path d="M1408.5 374.5L1431.0 374.5L1431.0 393.2L1409.8 393.2Z" fill="#8bd495" stroke="#8bd495"/>
<path d="M1409.8 393.2L1431.0 393.2L1431.0 410.8L1409.8 410.8Z" fill="#62c074" stroke="#62c074"/>
<path d="M1363.5 410.8L1409.8 410.8L1408.5 439.5L1363.5 439.5Z" fill="#a3ddaa" stroke="#a3ddaa"/>
<path d="M1409.8 410.8L1431.0 410.8L1431.0 464.5L1421.0 465.8L1418.5 439.5L1408.5 427.0Z" fill="#5aad6b" stroke="#5aad6b"/>
<path d="M1408.5 427.0L1418.5 439.5L1421.0 465.8L1408.5 465.8L1408.5 457.0L1381.0 457.0L1386.0 440.8L1408.5 439.5Z" fill="#a3ddaa" stroke="#a3ddaa"/>
<path d="M1211.0 434.5L1234.8 434.5L1242.2 429.5L1254.8 437.0L1263.5 439.5L1271.0 442.0L1268.5 449.5L1253.5 454.5L1252.2 464.5L1238.5 462.0L1202.2 459.5L1197.2 453.2L1211.0 449.5Z" fill="#b4e3b9" stroke="#b4e3b9"/>
<path d="M1213.5 444.5L1226.0 442.0L1219.8 453.2L1213.5 453.2Z" fill="#62c074" stroke="#62c074"/>
<path d="M1268.5 449.5L1271.0 442.0L1288.5 440.8L1289.8 469.5L1281.0 477.0L1273.5 478.2L1267.2 472.0L1263.5 462.0L1267.2 454.5Z" fill="#b4e3b9" stroke="#b4e3b9"/>
<path d="M1288.5 440.8L1317.2 439.5L1317.2 477.0L1289.8 477.0L1289.8 469.5Z" fill="#b4e3b9" stroke="#b4e3b9"/>
<path d="M1317.2 439.5L1386.0 440.8L1381.0 457.0L1349.8 458.2L1317.2 457.0Z" fill="#74ca82" stroke="#74ca82"/>
<path d="M1317.2 457.0L1349.8 458.2L1351.0 494.5L1317.2 494.5L1317.2 477.0Z" fill="#a3ddaa" stroke="#a3ddaa"/>
<path d="M1349.8 458.2L1381.0 457.0L1382.2 494.5L1351.0 494.5Z" fill="#62c074" stroke="#62c074"/>
<path d="M1381.0 457.0L1408.5 457.0L1408.5 465.8L1421.0 465.8L1418.5 492.0L1392.2 493.2L1382.2 494.5Z" fill="#74ca82" stroke="#74ca82"/>
<path d="M1289.8 477.0L1317.2 477.0L1317.2 494.5L1291.0 494.5Z" fill="#62c074" stroke="#62c074"/>
<path d="M1202.2 462.0L1216.0 460.8L1238.5 462.0L1238.5 488.2L1217.2 488.2L1216.0 474.5L1202.2 474.5Z" fill="#569b65" stroke="#569b65"/>
<path d="M1182.2 487.0L1188.5 482.0L1191.0 470.8L1202.2 474.5L1216.0 474.5L1217.2 488.2L1216.0 502.0L1211.0 507.0L1206.0 498.2L1186.0 498.2Z" fill="#62c074" stroke="#62c074"/>
<path d="M1238.5 465.8L1252.2 464.5L1253.5 454.5L1266.0 449.5L1267.2 454.5L1263.5 462.0L1267.2 472.0L1273.5 478.2L1276.0 484.5L1268.5 488.2L1267.2 495.8L1261.0 495.8L1259.8 507.0L1249.8 495.8L1248.5 488.2L1238.5 488.2Z" fill="#62c074" stroke="#62c074"/>
<path d="M1181.0 454.5L1197.2 453.2L1202.2 459.5L1202.2 474.5L1191.0 470.8L1188.5 482.0L1182.2 487.0Z" fill="#8bd495" stroke="#8bd495"/>
<path d="M1182.2 499.5L1186.0 498.2L1206.0 498.2L1211.0 507.0L1216.0 502.0L1217.2 488.2L1231.0 488.2L1232.2 519.5L1221.0 522.0L1216.0 532.0L1208.5 537.0L1201.0 544.5L1184.8 544.5L1183.5 517.0Z" fill="#a3ddaa" stroke="#a3ddaa"/>
<path d="M1231.0 488.2L1248.5 488.2L1249.8 495.8L1259.8 507.0L1258.5 512.0L1243.5 517.0L1246.0 523.2L1232.2 519.5Z" fill="#a3ddaa" stroke="#a3ddaa"/>
<path d="M1261.0 495.8L1267.2 495.8L1268.5 488.2L1276.0 484.5L1281.0 477.0L1289.8 477.0L1291.0 494.5L1289.8 504.5L1278.5 514.5L1263.5 512.0L1259.8 507.0Z" fill="#b4e3b9" stroke="#b4e3b9"/>
<path d="M1258.5 512.0L1263.5 512.0L1278.5 514.5L1289.8 504.5L1291.0 494.5L1314.8 495.8L1313.5 552.0L1311.0 559.5L1292.2 574.5L1291.0 549.5L1268.5 554.5L1264.8 532.0L1246.0 523.2L1243.5 517.0Z" fill="#a3ddaa" stroke="#a3ddaa"/>
<path d="M1221.0 522.0L1232.2 519.5L1246.0 523.2L1244.8 532.0L1237.2 534.5L1236.0 554.5L1211.0 552.0L1201.0 544.5L1208.5 537.0L1216.0 532.0Z" fill="#62c074" stroke="#62c074"/>
<path d="M1237.2 534.5L1244.8 532.0L1246.0 523.2L1264.8 532.0L1266.0 554.5L1257.2 554.5L1257.2 569.5L1238.5 569.5L1236.0 554.5Z" fill="#b4e3b9" stroke="#b4e3b9"/>
<path d="M1257.2 554.5L1268.5 554.5L1291.0 549.5L1292.2 569.5L1257.2 569.5Z" fill="#8bd495" stroke="#8bd495"/>
<path d="M1184.8 544.5L1201.0 544.5L1211.0 552.0L1211.0 582.0L1203.5 592.0L1201.0 604.5L1194.8 608.2L1192.2 592.0Z" fill="#569b65" stroke="#569b65"/>
<path d="M1211.0 552.0L1236.0 554.5L1238.5 569.5L1257.2 569.5L1283.5 570.8L1281.0 579.5L1272.2 584.5L1263.5 598.2L1251.0 622.0L1194.8 622.0L1194.8 608.2L1201.0 604.5L1203.5 592.0L1211.0 582.0Z" fill="#528f61" stroke="#528f61"/>
<path d="M1314.8 495.8L1351.0 494.5L1351.0 537.0L1366.0 538.2L1367.2 545.8L1351.0 554.5L1339.8 558.2L1321.0 557.0L1318.5 560.8L1311.0 559.5L1313.5 552.0Z" fill="#5aad6b" stroke="#5aad6b"/>
<path d="M1351.0 494.5L1392.2 493.2L1391.0 522.0L1388.5 527.0L1392.2 538.2L1367.2 545.8L1366.0 538.2L1351.0 537.0Z" fill="#5aad6b" stroke="#5aad6b"/>
<path d="M1392.2 493.2L1431.0 492.0L1431.0 537.0L1392.2 538.2L1388.5 527.0L1391.0 522.0Z" fill="#569b65" stroke="#569b65"/>
<path d="M1351.0 554.5L1367.2 545.8L1392.2 538.2L1401.0 538.2L1402.2 584.5L1349.8 585.8L1346.0 559.5Z" fill="#b4e3b9" stroke="#b4e3b9"/>
<path d="M1401.0 538.2L1431.0 537.0L1431.0 584.5L1402.2 584.5Z" fill="#74ca82" stroke="#74ca82"/>
<path d="M1293.5 575.8L1311.0 567.0L1339.8 558.2L1346.0 559.5L1349.8 585.8L1348.5 622.0L1293.5 622.0Z" fill="#62c074" stroke="#62c074"/>
<path d="M1349.8 585.8L1402.2 584.5L1403.5 622.0L1348.5 622.0Z" fill="#68c479" stroke="#68c479"/>
<path d="M1402.2 584.5L1431.0 584.5L1431.0 622.0L1403.5 622.0Z" fill="#8bd495" stroke="#8bd495"/>
<path d="M1156.0 559.5L1163.5 554.5L1176.0 552.0L1184.8 544.5L1192.2 592.0L1189.8 593.2L1188.5 602.0L1157.2 602.0Z" fill="#b4e3b9" stroke="#b4e3b9"/>
<path d="M1116.0 522.0L1146.0 519.5L1153.5 502.0L1182.2 499.5L1183.5 517.0L1184.8 544.5L1176.0 552.0L1163.5 554.5L1157.2 559.5L1151.0 545.8L1137.2 549.5L1126.0 548.2L1123.5 552.0L1112.2 552.0L1111.0 538.2L1104.8 534.5L1114.8 532.0Z" fill="#a3ddaa" stroke="#a3ddaa"/>
<path d="M1141.0 602.0L1157.2 602.0L1188.5 602.0L1189.8 593.2L1192.2 592.0L1194.8 608.2L1194.8 622.0L1158.5 622.0L1158.5 619.0L1141.0 619.0L1141.0 614.5L1134.8 614.0L1139.8 612.0Z" fill="#5aad6b" stroke="#5aad6b"/>
<path d="M1263.5 598.2L1272.2 584.5L1281.0 579.5L1283.5 570.8L1292.2 569.5L1292.2 574.5L1293.5 575.8L1293.5 622.0L1251.0 622.0Z" fill="#b4e3b9" stroke="#b4e3b9"/>
<path d="M1418.5 492.0L1421.0 465.8L1431.0 464.5L1431.0 492.0Z" fill="#a3ddaa" stroke="#a3ddaa"/>
<path d="M1054.0 352.0L1062.2 352.0L1061.0 362.0L1054.8 358.2Z" fill="#fbfbfb" stroke="#fbfbfb"/>
<path d="M848.1 300.0L903.8 300.0L902.5 308.1L895.6 307.5L893.8 313.8L893.1 309.4L889.4 309.4L888.1 320.6L885.6 323.8L885.6 333.1L876.2 333.1L876.2 306.9L861.9 307.5L861.2 314.4L855.6 315.0L855.0 308.8L847.5 305.6Z" fill="#a3ddaa" stroke="#a3ddaa"/>
<path d="M855.6 315.0L861.2 314.4L861.9 307.5L876.2 306.9L876.2 333.1L885.6 333.1L885.6 323.8L888.1 320.6L889.4 309.4L893.1 309.4L893.8 313.8L895.6 307.5L902.5 308.1L916.2 313.8L917.5 310.0L927.5 313.1L925.0 316.2L935.0 318.8L945.0 323.1L945.0 336.9L956.9 338.1L958.1 350.0L965.6 351.2L966.9 358.1L960.0 360.0L953.8 361.2L956.2 368.1L955.6 386.2L952.5 387.5L951.9 396.2L945.0 398.8L936.9 396.2L934.4 389.4L929.4 389.4L928.8 396.2L908.1 392.5L907.5 388.1L903.1 388.1L903.1 391.2L899.4 391.2L898.8 370.6L870.0 360.0L872.5 355.0L868.8 353.8L867.5 348.8L862.5 351.9L861.2 349.4L855.6 348.8Z" fill="#b4e3b9" stroke="#b4e3b9"/>
<path d="M903.8 300.0L971.9 300.0L971.9 303.8L971.2 311.9L967.5 312.5L966.9 315.6L958.1 315.0L958.1 324.4L953.1 325.0L952.5 326.9L948.8 326.9L956.9 334.4L956.9 338.1L945.0 336.9L945.0 323.1L935.0 318.8L925.0 316.2L927.5 313.1L917.5 310.0L916.2 313.8L902.5 308.1Z" fill="#74ca82" stroke="#74ca82"/>
<path d="M948.8 326.9L952.5 326.9L953.1 325.0L958.1 324.4L958.1 315.0L966.9 315.6L967.5 312.5L971.2 311.9L971.9 303.8L986.9 303.1L986.9 311.2L990.0 311.9L990.0 321.2L986.9 321.9L986.2 330.6L980.0 332.5L980.6 338.1L990.0 340.0L990.6 346.9L996.2 347.5L995.6 360.0L993.1 365.6L990.0 367.5L990.0 374.4L991.9 375.0L991.2 384.4L975.0 386.2L975.0 403.1L972.5 402.5L951.9 396.2L952.5 387.5L955.6 386.2L956.2 368.1L953.8 361.2L960.0 360.0L966.9 358.1L965.6 351.2L958.1 350.0L956.9 338.1L956.9 334.4Z" fill="#a3ddaa" stroke="#a3ddaa"/>
<path d="M971.9 300.0L1040.0 300.0L1040.0 327.5L1032.5 326.9L1027.5 329.4L1022.5 328.8L1021.9 337.5L1016.2 338.1L990.0 340.0L980.6 338.1L980.0 332.5L986.2 330.6L986.9 321.9L990.0 321.2L990.0 311.9L986.9 311.2L986.9 303.1L971.9 303.8Z" fill="#5aad6b" stroke="#5aad6b"/>
<path d="M990.0 340.0L1016.2 338.1L1021.9 337.5L1022.5 328.8L1027.5 329.4L1032.5 326.9L1040.0 327.5L1040.0 367.5L1029.4 366.2L1028.8 368.8L1022.5 370.0L1021.2 375.0L1013.1 370.6L1011.2 374.4L1010.0 370.0L1006.2 368.8L1005.0 374.4L997.5 375.0L993.1 365.6L995.6 360.0L996.2 347.5L990.6 346.9Z" fill="#62c074" stroke="#62c074"/>
<path d="M1431.0 352.0L1436.0 352.0L1441.0 364.5L1437.2 373.2L1431.0 373.2Z" fill="#5aad6b" stroke="#5aad6b"/>
<path d="M1431.0 373.2L1437.2 373.2L1441.0 364.5L1451.0 368.2L1449.8 374.5L1442.2 375.8L1444.8 389.5L1431.0 392.0Z" fill="#8bd495" stroke="#8bd495"/>
<path d="M1431.0 392.0L1444.8 389.5L1449.8 399.5L1452.2 409.5L1431.0 410.8Z" fill="#62c074" stroke="#62c074"/>
<path d="M1431.0 410.8L1452.2 409.5L1456.0 427.0L1461.0 434.5L1451.0 437.0L1436.0 438.2L1431.0 435.8Z" fill="#5aad6b" stroke="#5aad6b"/>
<path d="M1431.0 435.8L1436.0 438.2L1451.0 437.0L1457.2 438.2L1459.8 448.2L1454.8 448.2L1456.0 464.5L1468.5 465.8L1466.0 477.0L1431.0 477.0Z" fill="#74ca82" stroke="#74ca82"/>
<path d="M1454.8 448.2L1459.8 448.2L1466.0 454.5L1468.5 459.5L1468.5 465.8L1456.0 464.5Z" fill="#5aad6b" stroke="#5aad6b"/>
<path d="M1431.0 477.0L1466.0 477.0L1472.2 497.0L1448.5 499.5L1438.5 502.0L1431.0 493.2Z" fill="#74ca82" stroke="#74ca82"/>
<path d="M1449.0 493.2L1452.8 491.0L1468.5 491.5L1470.5 494.5L1469.0 496.5L1469.5 504.8L1464.0 501.0L1448.5 501.0Z" fill="#57a067" stroke="#57a067"/>
<path d="M1431.0 493.2L1438.5 502.0L1439.8 514.5L1442.2 517.0L1438.5 522.0L1438.5 538.2L1431.0 538.2Z" fill="#569b65" stroke="#569b65"/>
<path d="M1438.5 502.0L1449.8 502.0L1463.5 502.0L1471.0 507.0L1477.2 532.0L1476.0 537.0L1471.0 538.2L1448.5 538.2L1447.2 542.0L1446.0 538.2L1438.5 538.2L1438.5 522.0L1442.2 517.0L1439.8 514.5Z" fill="#5cb86e" stroke="#5cb86e"/>
<path d="M1431.0 538.2L1446.0 538.2L1447.2 542.0L1448.5 538.2L1457.2 538.2L1457.2 584.5L1431.0 584.5Z" fill="#74ca82" stroke="#74ca82"/>
<path d="M1457.2 538.2L1471.0 538.2L1476.0 537.0L1483.5 547.0L1492.2 564.5L1476.0 565.8L1458.5 565.8Z" fill="#74ca82" stroke="#74ca82"/>
<path d="M1458.5 565.8L1476.0 565.8L1492.2 564.5L1498.5 577.0L1501.0 583.2L1482.2 585.8L1458.5 584.5Z" fill="#a3ddaa" stroke="#a3ddaa"/>
<path d="M1457.2 584.5L1482.2 585.8L1501.0 583.2L1503.5 583.2L1501.0 593.2L1496.0 595.8L1493.5 618.2L1458.5 620.8Z" fill="#62c074" stroke="#62c074"/>
<path d="M1431.0 584.5L1457.2 584.5L1458.5 620.8L1431.0 622.0Z" fill="#74ca82" stroke="#74ca82"/>
<path d="M1496.0 595.8L1501.0 593.2L1507.2 602.0L1513.5 612.0L1519.8 622.0L1493.5 622.0L1493.5 618.2Z" fill="#a3ddaa" stroke="#a3ddaa"/>
<path d="M1465.0 455.0L1469.0 459.0L1478.5 456.5L1479.0 460.0L1472.0 461.5L1469.0 464.0L1465.0 462.0Z" fill="#5aad6b" stroke="#5aad6b"/>
<path d="M1159.8 622.0L1201.0 622.0L1203.5 632.0L1204.8 649.5L1196.0 650.8L1201.0 658.2L1202.2 664.5L1213.5 663.2L1187.2 687.0L1188.5 699.5L1196.0 700.8L1194.8 705.8L1187.2 707.0L1208.5 717.0L1188.5 718.2L1187.2 737.0L1176.0 737.0L1176.0 747.0L1187.2 748.2L1192.2 757.0L1191.0 763.2L1181.0 764.5L1171.0 772.0L1139.8 774.5L1137.2 780.8L1127.2 780.8L1124.8 774.5L1104.8 775.8L1096.0 785.8L1084.8 784.5L1081.0 780.8L1081.0 758.2L1064.8 759.5L1062.2 767.0L1053.5 769.5L1051.0 755.8L1078.5 735.8L1081.0 727.0L1066.0 730.8L1057.2 729.5L1068.5 728.2L1071.0 719.5L1076.0 722.0L1081.0 714.5L1097.2 710.8L1104.8 714.5L1108.5 708.2L1106.0 700.8L1089.8 702.0L1086.0 693.2L1096.0 685.8L1113.5 684.5L1114.8 695.8L1122.2 694.5L1123.5 698.2L1132.2 697.0L1133.5 683.2L1137.2 680.8L1136.0 669.5L1144.8 659.5L1146.0 637.0L1158.5 635.8Z" fill="#56a166" stroke="#56a166"/>
<path d="M1053.5 769.5L1062.2 767.0L1064.8 759.5L1081.0 758.2L1081.0 780.8L1084.8 784.5L1096.0 785.8L1094.8 812.0L1098.5 834.5L1106.0 847.0L1106.0 839.5L1111.0 844.5L1116.0 839.5L1118.5 844.5L1126.0 842.0L1136.0 840.8L1141.0 838.2L1139.8 843.2L1131.0 845.8L1126.0 855.8L1118.5 857.0L1117.2 864.5L1112.2 865.8L1116.0 883.2L1103.5 882.0L1111.0 877.0L1092.2 875.8L1091.0 882.0L1083.5 877.0L1066.0 877.0L1058.5 884.5L1034.8 887.0L1031.0 868.2L1026.0 865.8L1033.5 865.8L1038.5 857.0L1041.0 840.8L1046.0 839.5L1049.8 797.0Z" fill="#539b62" stroke="#539b62"/>
<path d="M1096.0 785.8L1104.8 775.8L1124.8 774.5L1127.2 780.8L1137.2 780.8L1139.8 774.5L1171.0 772.0L1178.5 782.0L1179.8 790.8L1189.8 792.0L1192.2 847.0L1191.0 859.5L1168.5 863.2L1166.0 877.0L1148.5 872.0L1147.2 883.2L1123.5 884.5L1116.0 883.2L1112.2 865.8L1117.2 864.5L1118.5 857.0L1126.0 855.8L1131.0 845.8L1139.8 843.2L1141.0 838.2L1136.0 840.8L1126.0 842.0L1118.5 844.5L1116.0 839.5L1111.0 844.5L1106.0 839.5L1106.0 847.0L1098.5 834.5L1094.8 812.0Z" fill="#66c378" stroke="#66c378"/>
<path d="M1147.2 883.2L1148.5 872.0L1166.0 877.0L1168.5 863.2L1191.0 859.5L1192.2 892.0L1147.2 892.0Z" fill="#8bd495" stroke="#8bd495"/>
<path d="M1201.0 622.0L1248.5 622.0L1241.0 634.5L1222.2 652.0L1204.8 653.2L1204.8 649.5L1203.5 632.0Z" fill="#569b65" stroke="#569b65"/>
<path d="M1196.0 650.8L1204.8 653.2L1222.2 652.0L1241.0 634.5L1248.5 652.0L1246.0 654.5L1246.0 679.5L1248.5 694.5L1242.2 699.5L1242.2 718.2L1224.8 717.0L1208.5 717.0L1187.2 707.0L1194.8 705.8L1196.0 700.8L1188.5 699.5L1187.2 687.0L1213.5 663.2L1202.2 664.5L1201.0 658.2Z" fill="#a3ddaa" stroke="#a3ddaa"/>
<path d="M1241.0 634.5L1248.5 622.0L1274.8 622.0L1276.0 647.0L1279.8 659.5L1273.5 654.5L1263.5 652.0L1262.2 660.8L1254.8 659.5L1253.5 652.0L1248.5 652.0Z" fill="#62c074" stroke="#62c074"/>
<path d="M1274.8 622.0L1294.8 622.0L1296.0 637.0L1294.8 659.5L1301.0 662.0L1297.2 675.8L1297.2 680.8L1308.5 684.5L1311.0 688.2L1297.2 702.0L1286.0 708.2L1282.2 697.0L1286.0 689.5L1286.0 669.5L1279.8 659.5L1276.0 647.0Z" fill="#a3ddaa" stroke="#a3ddaa"/>
<path d="M1294.8 622.0L1348.5 622.0L1348.5 632.0L1298.5 637.0L1296.0 637.0Z" fill="#62c074" stroke="#62c074"/>
<path d="M1296.0 637.0L1298.5 637.0L1348.5 632.0L1349.8 659.5L1301.0 662.0L1294.8 659.5Z" fill="#b4e3b9" stroke="#b4e3b9"/>
<path d="M1348.5 622.0L1431.0 622.0L1431.0 629.5L1403.5 630.8L1403.5 658.2L1349.8 659.5Z" fill="#8bd495" stroke="#8bd495"/>
<path d="M1301.0 662.0L1349.8 659.5L1351.0 668.2L1367.2 668.2L1368.5 713.2L1339.8 714.5L1338.5 722.0L1333.5 722.0L1332.2 697.0L1322.2 695.8L1323.5 689.5L1313.5 688.2L1311.0 678.2L1308.5 684.5L1297.2 680.8L1297.2 675.8Z" fill="#4f7e5b" stroke="#4f7e5b"/>
<path d="M1246.0 654.5L1248.5 652.0L1253.5 652.0L1254.8 659.5L1262.2 660.8L1263.5 652.0L1273.5 654.5L1279.8 659.5L1286.0 669.5L1286.0 689.5L1282.2 697.0L1266.0 689.5L1264.8 680.8L1246.0 679.5Z" fill="#a3ddaa" stroke="#a3ddaa"/>
<path d="M1246.0 679.5L1264.8 680.8L1266.0 689.5L1282.2 697.0L1286.0 708.2L1287.2 727.0L1278.5 724.5L1242.2 718.2L1242.2 699.5L1248.5 694.5Z" fill="#a3ddaa" stroke="#a3ddaa"/>
<path d="M1286.0 708.2L1297.2 702.0L1311.0 688.2L1313.5 688.2L1323.5 689.5L1322.2 695.8L1332.2 697.0L1333.5 722.0L1318.5 714.5L1314.8 729.5L1287.2 727.0Z" fill="#8bd495" stroke="#8bd495"/>
<path d="M1318.5 714.5L1333.5 722.0L1338.5 722.0L1339.8 714.5L1368.5 713.2L1351.0 722.0L1389.8 720.8L1391.0 732.0L1418.5 730.8L1418.5 733.2L1398.5 734.5L1393.5 749.5L1381.0 749.5L1386.0 762.0L1363.5 763.2L1331.0 744.5L1314.8 729.5Z" fill="#b4e3b9" stroke="#b4e3b9"/>
<path d="M1367.2 668.2L1351.0 668.2L1349.8 659.5L1403.5 658.2L1408.5 667.0L1431.0 684.5L1431.0 730.8L1418.5 730.8L1391.0 732.0L1389.8 720.8L1351.0 722.0L1368.5 713.2Z" fill="#b4e3b9" stroke="#b4e3b9"/>
<path d="M1403.5 630.8L1431.0 629.5L1431.0 684.5L1408.5 667.0L1403.5 658.2Z" fill="#a3ddaa" stroke="#a3ddaa"/>
<path d="M1188.5 718.2L1208.5 717.0L1224.8 717.0L1242.2 718.2L1278.5 724.5L1281.0 734.5L1284.8 757.0L1279.8 764.5L1276.0 769.5L1273.5 763.2L1259.8 764.5L1236.0 763.2L1233.5 772.0L1219.8 772.0L1216.0 763.2L1191.0 763.2L1192.2 757.0L1187.2 748.2L1176.0 747.0L1176.0 737.0L1187.2 737.0Z" fill="#a3ddaa" stroke="#a3ddaa"/>
<path d="M1278.5 724.5L1287.2 727.0L1314.8 729.5L1331.0 744.5L1332.2 768.2L1328.5 769.5L1326.0 775.8L1306.0 774.5L1298.5 770.8L1297.2 762.0L1291.0 765.8L1286.0 764.5L1279.8 764.5L1284.8 757.0L1281.0 734.5Z" fill="#5aad6b" stroke="#5aad6b"/>
<path d="M1331.0 744.5L1363.5 763.2L1373.5 782.0L1348.5 787.0L1343.5 780.8L1336.0 779.5L1328.5 769.5L1332.2 768.2Z" fill="#62c074" stroke="#62c074"/>
<path d="M1361.0 764.5L1394.8 763.2L1388.5 785.8L1376.0 785.8L1373.5 782.0Z" fill="#4f7e5b" stroke="#4f7e5b"/>
<path d="M1386.0 762.0L1381.0 749.5L1393.5 749.5L1398.5 734.5L1418.5 733.2L1413.5 747.0L1426.0 758.2L1423.5 777.0L1411.0 792.0L1406.0 778.2L1398.5 777.0L1398.5 788.2L1388.5 785.8L1394.8 763.2Z" fill="#66c378" stroke="#66c378"/>
<path d="M1418.5 733.2L1431.0 730.8L1431.0 758.2L1426.0 758.2L1413.5 747.0Z" fill="#569b65" stroke="#569b65"/>
<path d="M1236.0 763.2L1259.8 764.5L1273.5 763.2L1276.0 769.5L1286.0 764.5L1291.0 765.8L1297.2 762.0L1298.5 770.8L1301.0 784.5L1304.8 794.5L1301.0 802.0L1306.0 807.0L1303.5 822.0L1273.5 824.5L1271.0 832.0L1263.5 824.5L1249.8 823.2L1226.0 825.8L1217.2 825.8L1217.2 787.0L1226.0 785.8L1226.0 780.8L1233.5 772.0Z" fill="#62c074" stroke="#62c074"/>
<path d="M1171.0 772.0L1181.0 764.5L1191.0 763.2L1216.0 763.2L1219.8 772.0L1233.5 772.0L1226.0 780.8L1226.0 785.8L1217.2 787.0L1217.2 825.8L1226.0 825.8L1249.8 823.2L1249.8 844.5L1236.0 845.8L1234.8 863.2L1227.2 864.5L1228.5 882.0L1216.0 887.0L1209.8 882.0L1208.5 887.0L1198.5 885.8L1192.2 892.0L1192.2 847.0L1189.8 792.0L1179.8 790.8L1178.5 782.0Z" fill="#b4e3b9" stroke="#b4e3b9"/>
<path d="M1249.8 823.2L1263.5 824.5L1271.0 832.0L1272.2 887.0L1283.5 888.2L1283.5 892.0L1246.0 887.0L1237.2 885.8L1228.5 882.0L1227.2 864.5L1234.8 863.2L1236.0 845.8L1249.8 844.5Z" fill="#5aad6b" stroke="#5aad6b"/>
<path d="M1273.5 824.5L1303.5 822.0L1316.0 824.5L1321.0 829.5L1336.0 839.5L1344.8 834.5L1343.5 847.0L1336.0 852.0L1348.5 857.0L1337.2 859.5L1337.2 868.2L1341.0 892.0L1283.5 892.0L1283.5 888.2L1272.2 887.0L1271.0 832.0Z" fill="#b4e3b9" stroke="#b4e3b9"/>
<path d="M1298.5 770.8L1306.0 774.5L1306.0 794.5L1316.0 794.5L1317.2 777.0L1326.0 775.8L1328.5 769.5L1336.0 779.5L1343.5 780.8L1348.5 787.0L1341.0 797.0L1351.0 799.5L1361.0 814.5L1373.5 832.0L1373.5 844.5L1351.0 857.0L1348.5 857.0L1336.0 852.0L1343.5 847.0L1344.8 834.5L1336.0 839.5L1321.0 829.5L1316.0 824.5L1303.5 822.0L1306.0 807.0L1301.0 802.0L1304.8 794.5L1301.0 784.5Z" fill="#8bd495" stroke="#8bd495"/>
<path d="M1316.0 777.0L1326.0 775.8L1348.5 787.0L1373.5 782.0L1376.0 785.8L1388.5 785.8L1391.0 797.0L1381.0 804.5L1401.0 807.0L1406.0 819.5L1418.5 824.5L1421.0 832.0L1431.0 832.0L1431.0 844.5L1373.5 844.5L1373.5 832.0L1361.0 814.5L1351.0 799.5L1341.0 797.0L1336.0 792.0L1317.2 794.5Z" fill="#b4e3b9" stroke="#b4e3b9"/>
<path d="M1401.0 807.0L1411.0 797.0L1423.5 782.0L1431.0 787.0L1431.0 832.0L1421.0 832.0L1418.5 824.5L1406.0 819.5Z" fill="#55895f" stroke="#55895f"/>
<path d="M1388.5 785.8L1398.5 788.2L1398.5 777.0L1406.0 778.2L1411.0 792.0L1411.0 797.0L1401.0 807.0L1381.0 804.5L1391.0 797.0Z" fill="#62c074" stroke="#62c074"/>
<path d="M1351.0 857.0L1373.5 844.5L1383.5 845.8L1378.5 857.0L1386.0 864.5L1386.0 872.0L1376.0 874.5L1376.0 892.0L1341.0 892.0L1337.2 868.2L1337.2 859.5L1348.5 857.0Z" fill="#a3ddaa" stroke="#a3ddaa"/>
<path d="M1383.5 845.8L1431.0 844.5L1431.0 855.8L1418.5 857.0L1408.5 854.5L1403.5 868.2L1401.0 872.0L1391.0 882.0L1389.8 892.0L1376.0 892.0L1376.0 874.5L1386.0 872.0L1386.0 864.5L1378.5 857.0Z" fill="#62c074" stroke="#62c074"/>
<path d="M1408.5 854.5L1418.5 857.0L1431.0 855.8L1431.0 892.0L1389.8 892.0L1391.0 882.0L1401.0 872.0L1403.5 868.2Z" fill="#8bd495" stroke="#8bd495"/>
<path d="M1431.0 622.0L1457.2 622.0L1457.2 629.5L1431.0 629.5Z" fill="#62c074" stroke="#62c074"/>
<path d="M1431.0 629.5L1457.2 629.5L1458.5 675.8L1442.2 675.8L1441.0 724.5L1442.2 739.5L1431.0 739.5Z" fill="#a3ddaa" stroke="#a3ddaa"/>
<path d="M1457.2 622.0L1494.8 622.0L1494.8 638.2L1494.8 675.8L1462.2 675.8L1461.0 683.2L1458.5 675.8L1457.2 629.5Z" fill="#b4e3b9" stroke="#b4e3b9"/>
<path d="M1494.8 622.0L1519.8 622.0L1527.2 628.2L1534.8 630.8L1536.0 635.8L1533.5 638.2L1494.8 637.0Z" fill="#a3ddaa" stroke="#a3ddaa"/>
<path d="M1494.8 638.2L1533.5 638.2L1536.0 635.8L1544.8 642.0L1547.2 654.5L1551.0 667.0L1552.8 682.0L1552.8 733.2L1517.2 739.5L1513.5 723.2L1503.5 722.0L1503.5 707.0L1494.8 693.2Z" fill="#5aad6b" stroke="#5aad6b"/>
<path d="M1442.2 675.8L1458.5 675.8L1461.0 683.2L1462.2 675.8L1494.8 675.8L1494.8 693.2L1486.0 704.5L1481.0 722.0L1484.8 739.5L1492.2 752.0L1466.0 753.2L1442.2 755.8L1442.2 739.5L1441.0 724.5Z" fill="#62c074" stroke="#62c074"/>
<path d="M1494.8 693.2L1503.5 707.0L1503.5 722.0L1513.5 723.2L1517.2 739.5L1506.0 752.0L1513.5 772.0L1502.2 773.2L1498.5 760.8L1492.2 752.0L1484.8 739.5L1481.0 722.0L1486.0 704.5Z" fill="#58b56b" stroke="#58b56b"/>
<path d="M1517.2 739.5L1552.8 733.2L1552.8 792.0L1538.5 777.0L1537.2 788.2L1516.0 789.5L1513.5 772.0L1506.0 752.0Z" fill="#62c074" stroke="#62c074"/>
<path d="M1502.2 773.2L1513.5 772.0L1516.0 789.5L1537.2 788.2L1538.5 777.0L1552.8 792.0L1552.8 839.5L1551.0 849.5L1541.0 844.5L1536.0 837.0L1521.0 834.5L1519.8 844.5L1513.5 842.0L1512.2 827.0L1519.8 825.8L1519.8 814.5L1511.0 809.5L1504.8 817.0L1502.2 808.2L1506.0 803.2L1501.0 802.0L1501.0 780.8Z" fill="#74ca82" stroke="#74ca82"/>
<path d="M1431.0 739.5L1442.2 739.5L1442.2 755.8L1466.0 753.2L1492.2 752.0L1498.5 760.8L1502.2 773.2L1501.0 780.8L1492.2 778.2L1491.0 769.5L1484.8 769.5L1483.5 774.5L1477.2 773.2L1476.0 775.8L1464.8 773.2L1463.5 789.5L1449.8 792.0L1431.0 785.8Z" fill="#55895f" stroke="#55895f"/>
<path d="M1463.5 789.5L1464.8 773.2L1476.0 775.8L1477.2 773.2L1483.5 774.5L1484.8 769.5L1491.0 769.5L1492.2 778.2L1501.0 780.8L1501.0 802.0L1506.0 803.2L1502.2 808.2L1504.8 817.0L1499.8 815.8L1486.0 799.5L1483.5 807.0L1473.5 808.2L1472.2 800.8L1452.2 799.5L1449.8 792.0Z" fill="#55895f" stroke="#55895f"/>
<path d="M1431.0 785.8L1449.8 792.0L1452.2 799.5L1458.5 809.5L1457.2 819.5L1452.2 822.0L1454.8 833.2L1451.0 837.0L1449.8 848.2L1442.2 854.5L1437.2 847.0L1431.0 852.0Z" fill="#55895f" stroke="#55895f"/>
<path d="M1452.2 799.5L1472.2 800.8L1473.5 808.2L1483.5 807.0L1486.0 799.5L1499.8 815.8L1504.8 817.0L1511.0 809.5L1519.8 814.5L1519.8 825.8L1512.2 827.0L1513.5 842.0L1519.8 844.5L1514.8 854.5L1497.2 857.0L1497.2 879.5L1486.0 883.2L1477.2 887.0L1471.0 882.0L1458.5 879.5L1457.2 868.2L1448.5 862.0L1449.8 848.2L1451.0 837.0L1454.8 833.2L1452.2 822.0L1457.2 819.5L1458.5 809.5Z" fill="#a3ddaa" stroke="#a3ddaa"/>
<path d="M1483.5 808.2L1492.2 808.2L1492.2 818.2L1483.5 818.2Z" fill="#55895f" stroke="#55895f"/>
<path d="M1458.5 854.5L1497.2 857.0L1497.2 879.5L1486.0 883.2L1477.2 887.0L1471.0 882.0L1458.5 879.5L1457.2 868.2Z" fill="#b4e3b9" stroke="#b4e3b9"/>
<path d="M1497.2 857.0L1514.8 854.5L1519.8 844.5L1521.0 834.5L1536.0 837.0L1541.0 844.5L1551.0 849.5L1552.8 892.0L1511.0 892.0L1511.0 882.0L1502.2 882.0L1502.2 887.0L1486.0 883.2L1497.2 879.5Z" fill="#62c074" stroke="#62c074"/>
<path d="M1431.0 852.0L1437.2 847.0L1442.2 854.5L1449.8 848.2L1448.5 862.0L1457.2 868.2L1458.5 879.5L1471.0 882.0L1477.2 887.0L1486.0 883.2L1502.2 887.0L1502.2 892.0L1431.0 892.0Z" fill="#8bd495" stroke="#8bd495"/>
<path d="M1431.0 854.5L1443.5 858.2L1446.0 862.0L1431.0 863.2Z" fill="#62c074" stroke="#62c074"/>
<path d="M1147.2 869.5L1151.0 873.2L1166.0 877.0L1166.0 862.0L1191.0 862.0L1192.2 879.5L1198.5 885.8L1206.0 887.0L1211.0 883.2L1217.2 887.0L1238.5 887.0L1243.5 885.8L1281.0 889.5L1283.5 893.2L1278.5 895.8L1277.2 903.2L1266.0 904.5L1264.8 912.0L1251.0 914.5L1247.2 918.2L1242.2 924.5L1228.5 927.0L1227.2 930.8L1216.0 934.5L1214.8 948.2L1212.2 949.5L1211.0 963.2L1204.8 957.0L1201.0 960.8L1194.8 962.0L1194.8 948.2L1198.5 947.0L1198.5 935.8L1194.8 934.5L1193.5 918.2L1188.5 913.2L1184.8 915.8L1183.5 923.2L1176.0 924.5L1174.8 912.0L1161.0 910.8L1158.5 900.8L1143.5 903.2L1138.5 894.5L1147.2 893.2Z" fill="#8bd495" stroke="#8bd495"/>
<path d="M1191.0 862.0L1228.5 862.0L1227.2 879.5L1237.2 880.8L1238.5 887.0L1217.2 887.0L1211.0 883.2L1206.0 887.0L1198.5 885.8L1192.2 879.5Z" fill="#b4e3b9" stroke="#b4e3b9"/>
<path d="M1228.5 862.0L1272.2 862.0L1273.5 880.8L1283.5 883.2L1283.5 889.5L1281.0 889.5L1243.5 885.8L1238.5 887.0L1237.2 880.8L1227.2 879.5Z" fill="#5aad6b" stroke="#5aad6b"/>
<path d="M1272.2 862.0L1376.0 862.0L1376.0 889.5L1374.8 910.8L1357.2 909.5L1357.2 905.8L1338.5 907.0L1338.5 900.8L1322.2 900.8L1321.0 915.8L1312.2 915.8L1311.0 904.5L1302.2 904.5L1301.0 889.5L1283.5 889.5L1283.5 883.2L1273.5 880.8Z" fill="#b4e3b9" stroke="#b4e3b9"/>
<path d="M1283.5 893.2L1283.5 889.5L1301.0 889.5L1302.2 904.5L1288.5 907.0L1283.5 912.0L1274.8 915.8L1272.2 922.0L1268.5 915.8L1251.0 914.5L1264.8 912.0L1266.0 904.5L1277.2 903.2L1278.5 895.8Z" fill="#5aad6b" stroke="#5aad6b"/>
<path d="M1211.0 963.2L1212.2 949.5L1214.8 948.2L1216.0 934.5L1227.2 930.8L1228.5 927.0L1242.2 924.5L1247.2 918.2L1251.0 914.5L1268.5 915.8L1272.2 922.0L1274.8 915.8L1283.5 912.0L1288.5 907.0L1302.2 904.5L1311.0 904.5L1312.2 915.8L1303.5 919.5L1311.0 932.0L1313.5 945.8L1311.0 954.5L1303.5 955.8L1304.8 982.0L1319.8 990.8L1306.0 992.0L1306.0 999.0L1194.8 999.0L1194.8 962.0L1201.0 960.8L1204.8 957.0Z" fill="#66c378" stroke="#66c378"/>
<path d="M1303.5 919.5L1312.2 915.8L1321.0 915.8L1322.2 900.8L1338.5 900.8L1338.5 907.0L1357.2 905.8L1357.2 909.5L1374.8 910.8L1376.0 945.8L1388.5 947.0L1388.5 954.5L1396.0 955.8L1396.0 959.5L1388.5 959.5L1388.5 963.2L1367.2 963.2L1366.0 960.8L1334.8 965.8L1333.5 972.0L1324.8 973.2L1321.0 977.0L1319.8 990.8L1304.8 982.0L1303.5 955.8L1311.0 954.5L1313.5 945.8L1311.0 932.0Z" fill="#517e5b" stroke="#517e5b"/>
<path d="M1376.0 890.8L1401.0 889.5L1421.0 892.0L1422.2 900.8L1431.0 902.0L1431.0 918.2L1424.8 918.2L1423.5 922.0L1419.8 918.2L1376.0 918.2Z" fill="#55895f" stroke="#55895f"/>
<path d="M1376.0 918.2L1419.8 918.2L1423.5 922.0L1424.8 918.2L1431.0 918.2L1431.0 962.0L1413.5 959.5L1412.2 948.2L1388.5 947.0L1376.0 945.8Z" fill="#b4e3b9" stroke="#b4e3b9"/>
<path d="M1376.0 862.0L1408.5 862.0L1398.5 869.5L1388.5 880.8L1388.5 889.5L1376.0 890.8Z" fill="#62c074" stroke="#62c074"/>
<path d="M1408.5 862.0L1431.0 862.0L1431.0 902.0L1422.2 900.8L1421.0 892.0L1401.0 889.5L1388.5 889.5L1388.5 880.8L1398.5 869.5Z" fill="#8bd495" stroke="#8bd495"/>
<path d="M1319.8 990.8L1321.0 977.0L1324.8 973.2L1333.5 972.0L1334.8 965.8L1366.0 960.8L1367.2 963.2L1386.0 963.2L1387.2 999.0L1306.0 999.0L1306.0 992.0Z" fill="#a3ddaa" stroke="#a3ddaa"/>
<path d="M1386.0 963.2L1388.5 959.5L1396.0 959.5L1396.0 955.8L1388.5 954.5L1388.5 947.0L1412.2 948.2L1413.5 959.5L1431.0 962.0L1431.0 999.0L1387.2 999.0Z" fill="#74ca82" stroke="#74ca82"/>
<path d="M1418.5 982.0L1431.0 969.5L1431.0 999.0L1411.0 999.0Z" fill="#8bd495" stroke="#8bd495"/>
<path d="M1446.0 877.0L1457.2 875.8L1468.5 879.5L1471.0 887.0L1478.5 882.0L1487.2 885.8L1493.5 895.8L1502.2 897.0L1514.8 893.2L1538.5 897.0L1541.0 903.2L1552.8 902.0L1552.8 972.0L1546.0 974.5L1544.8 985.8L1532.2 987.0L1528.5 982.0L1523.5 992.0L1502.2 990.8L1501.0 982.0L1484.8 972.0L1461.0 975.8L1458.5 982.0L1439.8 984.5L1438.5 999.0L1431.0 999.0L1431.0 903.2L1446.0 903.2L1447.2 894.5L1443.5 889.5Z" fill="#b4e3b9" stroke="#b4e3b9"/>
<path d="M1431.0 862.0L1458.5 862.0L1457.2 875.8L1446.0 877.0L1443.5 889.5L1447.2 894.5L1446.0 903.2L1431.0 903.2Z" fill="#8bd495" stroke="#8bd495"/>
<path d="M1458.5 862.0L1497.2 862.0L1496.0 874.5L1487.2 885.8L1478.5 882.0L1471.0 887.0L1468.5 879.5L1457.2 875.8Z" fill="#a3ddaa" stroke="#a3ddaa"/>
<path d="M1497.2 862.0L1552.8 862.0L1552.8 902.0L1541.0 903.2L1538.5 897.0L1514.8 893.2L1511.0 887.0L1511.0 880.8L1502.2 882.0L1502.2 897.0L1493.5 895.8L1487.2 885.8L1496.0 874.5Z" fill="#62c074" stroke="#62c074"/>
<path d="M1431.0 903.2L1446.0 903.2L1452.2 914.5L1463.5 918.2L1483.5 909.5L1492.2 909.5L1491.0 922.0L1498.5 924.5L1499.8 972.0L1484.8 972.0L1461.0 975.8L1458.5 982.0L1439.8 984.5L1438.5 999.0L1431.0 999.0Z" fill="#a3ddaa" stroke="#a3ddaa"/>
<path d="M1431.0 999.0L1438.5 999.0L1439.8 984.5L1458.5 982.0L1461.0 975.8L1484.8 972.0L1501.0 982.0L1502.2 990.8L1523.5 992.0L1528.5 982.0L1532.2 987.0L1544.8 985.8L1546.0 974.5L1552.8 972.0L1552.8 999.0Z" fill="#62c074" stroke="#62c074"/>
<path d="M1464.8 992.0L1502.2 990.8L1523.5 992.0L1552.8 990.8L1552.8 999.0L1464.8 999.0Z" fill="#5aad6b" stroke="#5aad6b"/>
</g>
<g fill="none" stroke="#fff" stroke-opacity=".28" stroke-width=".7" stroke-linejoin="round">
<path d="M878.8 90.8L890.0 89.5L896.2 94.5L901.2 92.0L907.5 90.8L907.5 86.4L911.2 86.4L911.2 90.8L915.0 90.1L915.0 84.5L920.0 88.2L921.2 84.5L923.8 82.0M998.8 82.0L998.1 92.0L1002.5 92.6L1003.1 94.5L1008.8 94.5L1011.2 92.6L1013.1 94.5L1021.2 95.1L1021.2 100.8M880.0 100.8L878.8 90.8"/>
<path d="M1021.2 100.8L1021.2 95.1L1013.1 94.5L1011.2 92.6L1008.8 94.5L1003.1 94.5L1002.5 92.6L998.1 92.0L998.8 82.0"/>
<path d="M1131.0 82.0L1126.0 92.0L1121.0 100.8L1098.5 100.8L1098.5 82.0"/>
<path d="M1108.5 100.8L1122.2 100.8L1117.2 143.2L1108.5 143.2L1108.5 100.8"/>
<path d="M1191.0 143.2L1116.0 143.2L1121.0 100.8L1126.0 92.0L1131.0 82.0"/>
<path d="M757.2 143.0L783.5 148.0L784.8 159.2L792.2 163.0L797.2 155.5L809.8 154.2L811.0 161.8L818.5 164.2L826.0 163.0L831.0 166.8L846.0 158.0L851.0 150.5L857.2 148.0L857.2 143.0L866.0 143.0L867.2 149.2L876.0 153.0L877.2 161.8L883.5 164.2L883.5 190.5L862.2 193.0L861.0 183.0L856.0 186.8L851.0 191.8L836.0 195.5L821.0 188.0L811.0 180.5L806.0 174.2L801.0 183.0L793.5 185.5L793.5 176.8L775.5 178.0L774.8 179.2L762.2 180.5L762.2 166.8L757.2 166.8L757.2 143.0"/>
<path d="M775.5 178.2L793.5 177.0L793.5 185.5L801.0 183.0L806.0 174.2L811.0 180.5L821.0 188.0L836.0 195.5L851.0 191.8L856.0 186.8L861.0 183.0L862.2 193.0L883.5 190.5L884.8 207.0L891.0 209.5L886.0 222.0L881.0 237.0L861.0 239.5L854.8 239.2L851.0 231.8L836.0 230.5L836.0 224.2L821.0 229.2L820.2 235.5L806.0 229.2L797.2 220.5L794.8 215.5L793.5 194.5L776.5 192.0L775.5 178.2"/>
<path d="M861.0 143.2L1048.5 143.2L1048.5 148.2L1076.0 150.8L1074.8 187.0L1091.0 202.0L1078.5 199.5L1068.5 209.5L1068.5 217.0L1081.0 222.0L1078.5 242.0L1066.0 232.0L1056.0 222.0L1033.5 218.2L1033.5 225.8L1018.5 217.0L993.5 217.0L993.5 242.0L961.0 242.0L968.5 254.5L939.8 254.5L939.8 248.2L926.0 248.2L937.2 242.0L931.0 234.5L923.5 218.2L914.8 222.0L913.5 205.8L903.5 205.8L888.5 218.2L891.0 209.5L884.8 207.0L883.5 192.0L883.5 164.5L877.2 154.5L861.0 149.5L861.0 143.2"/>
<path d="M888.5 218.2L903.5 205.8L913.5 205.8L914.8 222.0L908.5 232.0L899.8 232.0L897.2 222.0L888.5 218.2"/>
<path d="M886.0 222.0L897.2 222.0L899.8 232.0L908.5 232.0L914.8 222.0L923.5 218.2L931.0 234.5L937.2 242.0L926.0 248.2L923.5 272.0L891.0 267.0L886.0 257.0L881.0 254.5L881.0 237.0L886.0 222.0"/>
<path d="M926.0 248.2L939.8 248.2L939.8 275.8L931.0 275.8L923.5 272.0L926.0 248.2"/>
<path d="M837.2 257.0L851.0 242.0L853.5 225.8L861.0 239.5L881.0 237.0L881.0 254.5L886.0 257.0L891.0 267.0L923.5 272.0L919.8 282.0L901.0 289.5L903.5 304.5L886.0 309.5L883.5 329.5L871.0 332.0L868.5 352.0M856.0 352.0L854.8 314.5L848.0 299.5L838.5 289.5L837.2 257.0"/>
<path d="M923.5 272.0L931.0 275.8L939.8 275.8L939.8 254.5L968.5 254.5L968.5 267.0L971.0 277.0L963.5 289.5L963.5 312.0L954.8 325.8L946.0 322.0L926.0 314.5L918.5 307.0L903.5 304.5L901.0 289.5L919.8 282.0L923.5 272.0"/>
<path d="M961.0 242.0L993.5 242.0L993.5 217.0L1018.5 217.0L1033.5 225.8L1033.5 244.5L1023.5 247.0L1031.0 262.0L1046.0 264.5L1046.0 277.0L1031.0 282.0L986.0 282.0L986.0 267.0L977.2 267.0L977.2 277.0L971.0 277.0L968.5 267.0L968.5 254.5L961.0 242.0"/>
<path d="M987.2 192.0L993.5 187.0L1006.0 187.0L1007.2 195.8L1016.0 195.8L1016.0 214.5L993.5 217.0L983.5 222.0L976.0 214.5L983.5 204.5L987.2 204.5L987.2 192.0"/>
<path d="M1033.5 218.2L1056.0 222.0L1066.0 232.0L1078.5 242.0L1076.0 252.0L1086.0 277.0L1076.0 282.0L1046.0 277.0L1046.0 264.5L1031.0 262.0L1023.5 247.0L1033.5 244.5L1033.5 218.2"/>
<path d="M963.5 289.5L971.0 277.0L977.2 277.0L986.0 282.0L1031.0 282.0L1046.0 277.0L1076.0 282.0L1076.0 299.5L1048.5 299.5L1048.5 329.5L1023.5 332.0L1013.5 337.0L981.0 338.2L986.0 327.0L986.0 307.0L971.0 302.0L963.5 297.0L963.5 289.5"/>
<path d="M981.0 338.2L1013.5 337.0L1023.5 332.0L1048.5 329.5L1053.5 332.0L1053.5 352.0M989.8 352.0L989.8 339.5L981.0 338.2"/>
<path d="M1048.5 299.5L1076.0 299.5L1076.0 282.0L1086.0 277.0L1101.0 284.5L1111.0 282.0L1136.0 282.0L1163.5 302.0L1168.5 334.5L1136.0 339.5L1111.0 334.5L1066.0 337.0L1053.5 332.0L1048.5 329.5L1048.5 299.5"/>
<path d="M883.5 329.5L886.0 309.5L903.5 304.5L918.5 307.0L926.0 314.5L946.0 322.0L954.8 325.8L946.0 337.0L946.0 352.0M868.5 352.0L871.0 332.0L883.5 329.5"/>
<path d="M954.8 325.8L963.5 312.0L963.5 297.0L971.0 302.0L986.0 307.0L986.0 327.0L981.0 338.2L989.8 339.5L989.8 352.0M946.0 352.0L946.0 337.0L954.8 325.8"/>
<path d="M1048.5 143.2L1101.0 143.2L1102.2 164.5L1103.5 207.0L1091.0 202.0L1074.8 187.0L1076.0 150.8L1048.5 148.2L1048.5 143.2"/>
<path d="M1102.2 143.2L1116.0 143.2L1117.2 152.0L1131.0 153.2L1132.2 162.0L1146.0 164.5L1151.0 182.0L1156.0 184.5L1151.0 199.5L1156.0 212.0L1133.5 212.0L1133.5 242.0L1101.0 242.0L1103.5 207.0L1102.2 164.5L1102.2 143.2"/>
<path d="M1101.0 242.0L1133.5 242.0L1136.0 257.0L1136.0 282.0L1121.0 272.0L1111.0 257.0L1101.0 254.5L1101.0 242.0"/>
<path d="M1068.5 209.5L1078.5 199.5L1091.0 202.0L1103.5 207.0L1101.0 242.0L1101.0 254.5L1111.0 257.0L1113.5 267.0L1108.5 279.5L1101.0 284.5L1086.0 277.0L1076.0 252.0L1078.5 242.0L1081.0 222.0L1068.5 217.0L1068.5 209.5"/>
<path d="M1116.0 143.2L1191.0 143.2M1191.0 267.0L1163.5 267.0L1136.0 257.0L1133.5 242.0L1133.5 212.0L1156.0 212.0L1151.0 199.5L1156.0 184.5L1151.0 182.0L1146.0 164.5L1132.2 162.0L1131.0 153.2L1117.2 152.0L1116.0 143.2"/>
<path d="M1152.2 170.8L1169.8 169.5L1173.5 182.0L1184.8 194.5L1186.0 214.5L1168.5 213.2L1158.5 207.0L1143.5 198.2L1156.0 187.0L1152.2 170.8"/>
<path d="M1136.0 257.0L1163.5 267.0L1163.5 302.0L1136.0 282.0L1136.0 257.0"/>
<path d="M1163.5 267.0L1191.0 267.0M1191.0 289.5L1163.5 289.5L1163.5 267.0"/>
<path d="M1163.5 289.5L1191.0 289.5M1166.0 352.0L1168.5 334.5L1163.5 302.0L1163.5 289.5"/>
<path d="M1066.0 337.0L1111.0 334.5L1136.0 339.5L1144.8 337.0L1144.8 352.0M1066.0 352.0L1066.0 337.0"/>
<path d="M1144.8 337.0L1168.5 334.5L1166.0 352.0M1144.8 352.0L1144.8 337.0"/>
<path d="M1246.0 82.0L1251.0 94.5L1261.0 100.8L1283.5 107.0L1298.5 133.2L1301.0 139.5L1308.5 157.0L1313.5 167.0L1311.0 177.0L1294.8 178.2L1293.5 192.0L1281.0 192.0L1273.5 187.0L1263.5 192.0L1231.0 193.2L1229.8 214.5L1211.0 217.0L1208.5 189.5L1213.5 187.0L1206.0 172.0L1209.8 169.5L1209.8 82.0"/>
<path d="M1209.8 82.0L1209.8 169.5L1206.0 172.0L1191.0 169.5"/>
<path d="M1304.8 82.0L1331.0 132.0L1307.2 133.2L1301.0 139.5L1298.5 133.2L1283.5 107.0L1261.0 100.8L1251.0 94.5L1246.0 82.0"/>
<path d="M1307.2 133.2L1331.0 132.0L1348.5 164.5L1343.5 168.2L1327.2 175.8L1313.5 178.2L1311.0 177.0L1313.5 167.0L1308.5 157.0L1301.0 139.5L1307.2 133.2"/>
<path d="M1294.8 178.2L1311.0 177.0L1313.5 178.2L1327.2 175.8L1343.5 168.2L1348.5 164.5L1363.5 187.0L1377.2 205.8L1363.5 209.5L1362.2 214.5L1333.5 218.2L1326.0 209.5L1316.0 209.5L1311.0 205.8L1296.0 204.5L1289.8 202.0L1296.0 197.0L1294.8 178.2"/>
<path d="M1316.0 209.5L1326.0 209.5L1333.5 218.2L1362.2 214.5L1363.5 209.5L1377.2 205.8L1404.8 227.0L1406.0 235.8L1381.0 239.5L1358.5 239.5L1358.0 243.2L1332.2 243.2L1328.5 229.5L1316.0 224.5L1321.0 214.5L1316.0 209.5"/>
<path d="M1364.8 209.5L1377.2 205.8L1386.0 213.2L1381.0 218.2L1367.2 220.8L1364.8 209.5"/>
<path d="M1231.0 193.2L1263.5 192.0L1273.5 187.0L1281.0 192.0L1284.8 222.0L1278.5 227.0L1254.8 225.8L1248.5 217.0L1239.8 214.5L1231.0 214.5L1231.0 193.2"/>
<path d="M1281.0 192.0L1293.5 192.0L1296.0 197.0L1289.8 202.0L1296.0 204.5L1311.0 205.8L1316.0 209.5L1321.0 214.5L1316.0 224.5L1328.5 229.5L1332.2 243.2L1322.2 245.8L1302.2 247.0L1298.5 254.5L1269.8 258.2L1266.0 257.0L1263.5 247.0L1257.2 252.0L1232.2 254.5L1231.0 214.5L1239.8 214.5L1248.5 217.0L1254.8 225.8L1278.5 227.0L1284.8 222.0L1281.0 192.0"/>
<path d="M1358.0 239.5L1381.0 239.5L1406.0 235.8L1412.2 247.0L1408.5 254.5L1404.8 264.5L1381.0 265.8L1378.5 257.0L1363.5 255.8L1362.2 244.5L1358.0 239.5"/>
<path d="M1363.5 257.0L1378.5 257.0L1379.8 267.0L1363.5 267.0L1363.5 257.0"/>
<path d="M1344.8 244.5L1362.2 244.5L1363.5 255.8L1363.5 267.0L1379.8 267.0L1378.5 309.5L1366.0 310.8L1364.8 305.8L1343.5 305.8L1344.8 274.5L1347.2 258.2L1344.0 257.0L1344.8 244.5"/>
<path d="M1322.2 245.8L1344.8 244.5L1344.0 257.0L1347.2 258.2L1344.8 274.5L1343.5 305.8L1339.8 319.5L1331.0 318.2L1329.8 314.5L1324.8 315.8L1323.5 300.8L1313.5 294.5L1329.8 297.0L1329.8 282.0L1327.2 280.8L1328.5 257.0L1326.0 249.5L1322.2 245.8"/>
<path d="M1257.2 252.0L1263.5 247.0L1266.0 257.0L1269.8 258.2L1271.0 272.0L1274.8 275.8L1293.5 275.8L1293.5 284.5L1298.5 285.8L1301.0 294.5L1313.5 294.5L1323.5 300.8L1324.8 315.8L1316.0 307.0L1306.0 312.0L1311.0 320.8L1306.0 325.8L1288.5 324.5L1288.5 302.0L1278.5 302.0L1277.2 293.2L1261.0 292.0L1252.2 288.2L1253.0 282.0L1258.5 280.8L1256.5 267.0L1257.2 252.0"/>
<path d="M1269.8 258.2L1298.5 254.5L1302.2 247.0L1322.2 245.8L1326.0 249.5L1328.5 257.0L1327.2 280.8L1329.8 282.0L1329.8 297.0L1313.5 294.5L1301.0 294.5L1298.5 285.8L1293.5 284.5L1293.5 275.8L1274.8 275.8L1271.0 272.0L1269.8 258.2"/>
<path d="M1228.5 289.5L1232.2 284.5L1252.2 288.2L1261.0 292.0L1277.2 293.2L1278.5 302.0L1274.8 304.5L1272.2 344.5L1241.0 337.0L1237.2 322.0L1238.5 314.5L1232.2 299.5L1228.5 289.5"/>
<path d="M1274.8 304.5L1278.5 302.0L1288.5 302.0L1288.5 324.5L1306.0 325.8L1304.8 352.0M1271.0 352.0L1272.2 344.5L1274.8 304.5"/>
<path d="M1306.0 312.0L1316.0 307.0L1324.8 315.8L1329.8 314.5L1331.0 318.2L1339.8 319.5L1341.0 329.5L1361.0 329.5L1361.0 352.0M1304.8 352.0L1306.0 325.8L1311.0 320.8L1306.0 312.0"/>
<path d="M1341.0 305.8L1364.8 305.8L1366.0 310.8L1378.5 309.5L1378.5 328.2L1361.0 329.5L1341.0 329.5L1339.8 319.5L1341.0 305.8"/>
<path d="M1379.8 302.0L1406.0 302.0L1407.2 328.2L1378.5 328.2L1378.5 309.5L1379.8 302.0"/>
<path d="M1379.8 267.0L1404.8 264.5L1413.5 264.5L1417.2 279.5L1422.2 302.0L1406.0 302.0L1379.8 302.0L1379.8 267.0"/>
<path d="M1406.0 302.0L1422.2 302.0L1428.5 322.0L1429.8 328.2L1407.2 328.2L1406.0 302.0"/>
<path d="M1361.0 329.5L1407.2 328.2L1429.8 328.2L1434.8 352.0M1361.0 352.0L1361.0 329.5"/>
<path d="M1191.0 232.0L1206.0 227.0L1211.0 217.0L1229.8 214.5L1231.0 254.5L1232.2 254.5L1257.2 252.0L1256.5 267.0L1258.5 280.8L1253.0 282.0L1252.2 288.2L1232.2 284.5L1228.5 289.5L1223.5 287.0L1191.0 287.0"/>
<path d="M1191.0 189.5L1211.0 188.2L1213.5 197.0L1209.8 202.0L1211.0 217.0L1206.0 227.0L1191.0 232.0"/>
<path d="M1191.0 287.0L1223.5 287.0L1228.5 289.5L1232.2 299.5L1238.5 314.5L1237.2 322.0L1241.0 337.0L1241.0 352.0M1216.0 352.0L1214.8 332.0L1203.5 319.5L1191.0 315.8"/>
<path d="M1191.0 315.8L1203.5 319.5L1214.8 332.0L1216.0 352.0"/>
<path d="M1241.0 337.0L1272.2 344.5L1271.0 352.0M1241.0 352.0L1241.0 337.0"/>
<path d="M1191.0 169.5L1206.0 172.0L1213.5 187.0L1208.5 189.5L1191.0 189.5"/>
<path d="M1163.2 287.7L1224.4 286.7L1228.4 289.7L1235.6 313.2L1231.5 319.3L1240.7 343.7L1240.7 360.0M1162.2 360.0L1166.3 343.7L1162.2 298.9L1163.2 287.7"/>
<path d="M1165.3 360.0L1164.7 343.7L1170.4 329.4L1180.6 320.3L1192.8 316.2L1205.0 319.3L1213.2 327.4L1219.3 343.7L1220.3 360.0"/>
<path d="M996.0 352.0L992.2 367.0L991.0 384.5L976.0 387.0L973.5 400.8L951.0 398.2"/>
<path d="M1053.5 352.0L1048.5 362.0L1023.5 369.5L1008.5 368.2L1001.0 373.2L992.2 367.0L996.0 352.0"/>
<path d="M1116.0 352.0L1113.5 362.0L1118.5 367.0L1108.5 369.5L1103.5 377.0L1096.0 384.5L1081.0 377.0L1076.0 385.8L1068.5 384.5L1061.0 362.0L1062.2 352.0"/>
<path d="M1141.0 352.0L1142.2 377.0L1143.5 393.2L1136.0 394.5L1121.0 389.5L1116.0 395.8L1096.0 384.5L1103.5 377.0L1108.5 369.5L1118.5 367.0L1113.5 362.0L1116.0 352.0"/>
<path d="M1164.8 352.0L1181.0 369.5L1182.2 409.5L1174.8 412.0L1171.0 408.2L1168.5 412.0L1146.0 413.2L1139.8 412.0L1138.5 402.0L1144.8 395.8L1143.5 393.2L1142.2 377.0L1141.0 352.0"/>
<path d="M1139.8 412.0L1146.0 413.2L1168.5 412.0L1171.0 408.2L1174.8 412.0L1182.2 409.5L1181.0 454.5L1183.5 484.5L1182.2 499.5L1153.5 502.0L1148.5 499.5L1146.0 482.0L1142.2 464.5L1136.0 462.0L1138.5 447.0L1139.8 412.0"/>
<path d="M1219.8 352.0L1216.0 364.5L1208.5 379.5L1201.0 385.8L1188.5 384.5L1181.0 369.5L1164.8 352.0"/>
<path d="M1182.2 362.0L1198.5 377.0L1191.0 379.5L1182.2 374.5L1182.2 362.0"/>
<path d="M1182.2 380.8L1188.5 384.5L1201.0 385.8L1208.5 379.5L1213.5 383.2L1214.8 395.8L1242.2 393.2L1246.0 404.5L1242.2 429.5L1234.8 434.5L1233.5 422.0L1216.0 423.2L1214.8 412.0L1206.0 412.0L1204.8 405.8L1184.8 405.8L1182.2 409.5L1182.2 380.8"/>
<path d="M1246.0 352.0L1249.8 362.0L1241.0 369.5L1248.5 377.0L1246.0 387.0L1242.2 393.2L1214.8 395.8L1213.5 383.2L1208.5 379.5L1216.0 364.5L1219.8 352.0"/>
<path d="M1306.0 352.0L1306.0 375.8L1287.2 377.0L1286.0 384.5L1261.0 385.8L1261.0 377.0L1248.5 377.0L1241.0 369.5L1249.8 362.0L1246.0 352.0"/>
<path d="M1246.0 387.0L1248.5 377.0L1261.0 377.0L1261.0 385.8L1286.0 384.5L1287.2 377.0L1324.8 375.8L1326.0 412.0L1288.5 413.2L1287.2 404.5L1271.0 404.5L1261.0 400.8L1246.0 404.5L1242.2 393.2L1246.0 387.0"/>
<path d="M1182.2 409.5L1184.8 405.8L1204.8 405.8L1206.0 412.0L1214.8 412.0L1216.0 423.2L1233.5 422.0L1234.8 434.5L1211.0 434.5L1211.0 449.5L1197.2 453.2L1181.0 454.5L1182.2 409.5"/>
<path d="M1246.0 404.5L1261.0 400.8L1271.0 404.5L1262.2 425.8L1263.5 439.5L1254.8 437.0L1242.2 429.5L1246.0 404.5"/>
<path d="M1271.0 404.5L1287.2 404.5L1288.5 413.2L1303.5 413.2L1307.2 439.5L1263.5 439.5L1262.2 425.8L1271.0 404.5"/>
<path d="M1303.5 413.2L1326.0 412.0L1362.2 410.8L1363.5 439.5L1307.2 439.5L1303.5 413.2"/>
<path d="M1362.2 352.0L1362.2 374.5L1324.8 375.8L1306.0 375.8L1306.0 352.0"/>
<path d="M1408.5 352.0L1408.5 374.5L1362.2 374.5L1362.2 352.0"/>
<path d="M1431.0 374.5L1408.5 374.5L1408.5 352.0"/>
<path d="M1324.8 375.8L1362.2 374.5L1363.5 410.8L1326.0 412.0L1324.8 375.8"/>
<path d="M1362.2 374.5L1408.5 374.5L1409.8 410.8L1363.5 410.8L1362.2 374.5"/>
<path d="M1408.5 374.5L1431.0 374.5M1431.0 393.2L1409.8 393.2L1408.5 374.5"/>
<path d="M1409.8 393.2L1431.0 393.2M1431.0 410.8L1409.8 410.8L1409.8 393.2"/>
<path d="M1363.5 410.8L1409.8 410.8L1408.5 439.5L1363.5 439.5L1363.5 410.8"/>
<path d="M1409.8 410.8L1431.0 410.8M1431.0 464.5L1421.0 465.8L1418.5 439.5L1408.5 427.0L1409.8 410.8"/>
<path d="M1408.5 427.0L1418.5 439.5L1421.0 465.8L1408.5 465.8L1408.5 457.0L1381.0 457.0L1386.0 440.8L1408.5 439.5L1408.5 427.0"/>
<path d="M1211.0 434.5L1234.8 434.5L1242.2 429.5L1254.8 437.0L1263.5 439.5L1271.0 442.0L1268.5 449.5L1253.5 454.5L1252.2 464.5L1238.5 462.0L1202.2 459.5L1197.2 453.2L1211.0 449.5L1211.0 434.5"/>
<path d="M1213.5 444.5L1226.0 442.0L1219.8 453.2L1213.5 453.2L1213.5 444.5"/>
<path d="M1268.5 449.5L1271.0 442.0L1288.5 440.8L1289.8 469.5L1281.0 477.0L1273.5 478.2L1267.2 472.0L1263.5 462.0L1267.2 454.5L1268.5 449.5"/>
<path d="M1288.5 440.8L1317.2 439.5L1317.2 477.0L1289.8 477.0L1289.8 469.5L1288.5 440.8"/>
<path d="M1317.2 439.5L1386.0 440.8L1381.0 457.0L1349.8 458.2L1317.2 457.0L1317.2 439.5"/>
<path d="M1317.2 457.0L1349.8 458.2L1351.0 494.5L1317.2 494.5L1317.2 477.0L1317.2 457.0"/>
<path d="M1349.8 458.2L1381.0 457.0L1382.2 494.5L1351.0 494.5L1349.8 458.2"/>
<path d="M1381.0 457.0L1408.5 457.0L1408.5 465.8L1421.0 465.8L1418.5 492.0L1392.2 493.2L1382.2 494.5L1381.0 457.0"/>
<path d="M1289.8 477.0L1317.2 477.0L1317.2 494.5L1291.0 494.5L1289.8 477.0"/>
<path d="M1202.2 462.0L1216.0 460.8L1238.5 462.0L1238.5 488.2L1217.2 488.2L1216.0 474.5L1202.2 474.5L1202.2 462.0"/>
<path d="M1182.2 487.0L1188.5 482.0L1191.0 470.8L1202.2 474.5L1216.0 474.5L1217.2 488.2L1216.0 502.0L1211.0 507.0L1206.0 498.2L1186.0 498.2L1182.2 487.0"/>
<path d="M1238.5 465.8L1252.2 464.5L1253.5 454.5L1266.0 449.5L1267.2 454.5L1263.5 462.0L1267.2 472.0L1273.5 478.2L1276.0 484.5L1268.5 488.2L1267.2 495.8L1261.0 495.8L1259.8 507.0L1249.8 495.8L1248.5 488.2L1238.5 488.2L1238.5 465.8"/>
<path d="M1181.0 454.5L1197.2 453.2L1202.2 459.5L1202.2 474.5L1191.0 470.8L1188.5 482.0L1182.2 487.0L1181.0 454.5"/>
<path d="M1182.2 499.5L1186.0 498.2L1206.0 498.2L1211.0 507.0L1216.0 502.0L1217.2 488.2L1231.0 488.2L1232.2 519.5L1221.0 522.0L1216.0 532.0L1208.5 537.0L1201.0 544.5L1184.8 544.5L1183.5 517.0L1182.2 499.5"/>
<path d="M1231.0 488.2L1248.5 488.2L1249.8 495.8L1259.8 507.0L1258.5 512.0L1243.5 517.0L1246.0 523.2L1232.2 519.5L1231.0 488.2"/>
<path d="M1261.0 495.8L1267.2 495.8L1268.5 488.2L1276.0 484.5L1281.0 477.0L1289.8 477.0L1291.0 494.5L1289.8 504.5L1278.5 514.5L1263.5 512.0L1259.8 507.0L1261.0 495.8"/>
<path d="M1258.5 512.0L1263.5 512.0L1278.5 514.5L1289.8 504.5L1291.0 494.5L1314.8 495.8L1313.5 552.0L1311.0 559.5L1292.2 574.5L1291.0 549.5L1268.5 554.5L1264.8 532.0L1246.0 523.2L1243.5 517.0L1258.5 512.0"/>
<path d="M1221.0 522.0L1232.2 519.5L1246.0 523.2L1244.8 532.0L1237.2 534.5L1236.0 554.5L1211.0 552.0L1201.0 544.5L1208.5 537.0L1216.0 532.0L1221.0 522.0"/>
<path d="M1237.2 534.5L1244.8 532.0L1246.0 523.2L1264.8 532.0L1266.0 554.5L1257.2 554.5L1257.2 569.5L1238.5 569.5L1236.0 554.5L1237.2 534.5"/>
<path d="M1257.2 554.5L1268.5 554.5L1291.0 549.5L1292.2 569.5L1257.2 569.5L1257.2 554.5"/>
<path d="M1184.8 544.5L1201.0 544.5L1211.0 552.0L1211.0 582.0L1203.5 592.0L1201.0 604.5L1194.8 608.2L1192.2 592.0L1184.8 544.5"/>
<path d="M1211.0 552.0L1236.0 554.5L1238.5 569.5L1257.2 569.5L1283.5 570.8L1281.0 579.5L1272.2 584.5L1263.5 598.2L1251.0 622.0M1194.8 622.0L1194.8 608.2L1201.0 604.5L1203.5 592.0L1211.0 582.0L1211.0 552.0"/>
<path d="M1314.8 495.8L1351.0 494.5L1351.0 537.0L1366.0 538.2L1367.2 545.8L1351.0 554.5L1339.8 558.2L1321.0 557.0L1318.5 560.8L1311.0 559.5L1313.5 552.0L1314.8 495.8"/>
<path d="M1351.0 494.5L1392.2 493.2L1391.0 522.0L1388.5 527.0L1392.2 538.2L1367.2 545.8L1366.0 538.2L1351.0 537.0L1351.0 494.5"/>
<path d="M1392.2 493.2L1431.0 492.0M1431.0 537.0L1392.2 538.2L1388.5 527.0L1391.0 522.0L1392.2 493.2"/>
<path d="M1351.0 554.5L1367.2 545.8L1392.2 538.2L1401.0 538.2L1402.2 584.5L1349.8 585.8L1346.0 559.5L1351.0 554.5"/>
<path d="M1401.0 538.2L1431.0 537.0M1431.0 584.5L1402.2 584.5L1401.0 538.2"/>
<path d="M1293.5 575.8L1311.0 567.0L1339.8 558.2L1346.0 559.5L1349.8 585.8L1348.5 622.0M1293.5 622.0L1293.5 575.8"/>
<path d="M1349.8 585.8L1402.2 584.5L1403.5 622.0M1348.5 622.0L1349.8 585.8"/>
<path d="M1402.2 584.5L1431.0 584.5M1403.5 622.0L1402.2 584.5"/>
<path d="M1156.0 559.5L1163.5 554.5L1176.0 552.0L1184.8 544.5L1192.2 592.0L1189.8 593.2L1188.5 602.0L1157.2 602.0L1156.0 559.5"/>
<path d="M1116.0 522.0L1146.0 519.5L1153.5 502.0L1182.2 499.5L1183.5 517.0L1184.8 544.5L1176.0 552.0L1163.5 554.5L1157.2 559.5L1151.0 545.8L1137.2 549.5L1126.0 548.2L1123.5 552.0L1112.2 552.0L1111.0 538.2L1104.8 534.5L1114.8 532.0L1116.0 522.0"/>
<path d="M1141.0 602.0L1157.2 602.0L1188.5 602.0L1189.8 593.2L1192.2 592.0L1194.8 608.2L1194.8 622.0M1158.5 622.0L1158.5 619.0L1141.0 619.0L1141.0 614.5L1134.8 614.0L1139.8 612.0L1141.0 602.0"/>
<path d="M1263.5 598.2L1272.2 584.5L1281.0 579.5L1283.5 570.8L1292.2 569.5L1292.2 574.5L1293.5 575.8L1293.5 622.0M1251.0 622.0L1263.5 598.2"/>
<path d="M1418.5 492.0L1421.0 465.8L1431.0 464.5M1431.0 492.0L1418.5 492.0"/>
<path d="M903.8 300.0L902.5 308.1L895.6 307.5L893.8 313.8L893.1 309.4L889.4 309.4L888.1 320.6L885.6 323.8L885.6 333.1L876.2 333.1L876.2 306.9L861.9 307.5L861.2 314.4L855.6 315.0L855.0 308.8L847.5 305.6L848.1 300.0"/>
<path d="M855.6 315.0L861.2 314.4L861.9 307.5L876.2 306.9L876.2 333.1L885.6 333.1L885.6 323.8L888.1 320.6L889.4 309.4L893.1 309.4L893.8 313.8L895.6 307.5L902.5 308.1L916.2 313.8L917.5 310.0L927.5 313.1L925.0 316.2L935.0 318.8L945.0 323.1L945.0 336.9L956.9 338.1L958.1 350.0L965.6 351.2L966.9 358.1L960.0 360.0L953.8 361.2L956.2 368.1L955.6 386.2L952.5 387.5L951.9 396.2L945.0 398.8L936.9 396.2L934.4 389.4L929.4 389.4L928.8 396.2L908.1 392.5L907.5 388.1L903.1 388.1L903.1 391.2L899.4 391.2L898.8 370.6L870.0 360.0L872.5 355.0L868.8 353.8L867.5 348.8L862.5 351.9L861.2 349.4L855.6 348.8L855.6 315.0"/>
<path d="M971.9 300.0L971.9 303.8L971.2 311.9L967.5 312.5L966.9 315.6L958.1 315.0L958.1 324.4L953.1 325.0L952.5 326.9L948.8 326.9L956.9 334.4L956.9 338.1L945.0 336.9L945.0 323.1L935.0 318.8L925.0 316.2L927.5 313.1L917.5 310.0L916.2 313.8L902.5 308.1L903.8 300.0"/>
<path d="M948.8 326.9L952.5 326.9L953.1 325.0L958.1 324.4L958.1 315.0L966.9 315.6L967.5 312.5L971.2 311.9L971.9 303.8L986.9 303.1L986.9 311.2L990.0 311.9L990.0 321.2L986.9 321.9L986.2 330.6L980.0 332.5L980.6 338.1L990.0 340.0L990.6 346.9L996.2 347.5L995.6 360.0L993.1 365.6L990.0 367.5L990.0 374.4L991.9 375.0L991.2 384.4L975.0 386.2L975.0 403.1L972.5 402.5L951.9 396.2L952.5 387.5L955.6 386.2L956.2 368.1L953.8 361.2L960.0 360.0L966.9 358.1L965.6 351.2L958.1 350.0L956.9 338.1L956.9 334.4L948.8 326.9"/>
<path d="M1040.0 327.5L1032.5 326.9L1027.5 329.4L1022.5 328.8L1021.9 337.5L1016.2 338.1L990.0 340.0L980.6 338.1L980.0 332.5L986.2 330.6L986.9 321.9L990.0 321.2L990.0 311.9L986.9 311.2L986.9 303.1L971.9 303.8L971.9 300.0"/>
<path d="M990.0 340.0L1016.2 338.1L1021.9 337.5L1022.5 328.8L1027.5 329.4L1032.5 326.9L1040.0 327.5M1040.0 367.5L1029.4 366.2L1028.8 368.8L1022.5 370.0L1021.2 375.0L1013.1 370.6L1011.2 374.4L1010.0 370.0L1006.2 368.8L1005.0 374.4L997.5 375.0L993.1 365.6L995.6 360.0L996.2 347.5L990.6 346.9L990.0 340.0"/>
<path d="M1436.0 352.0L1441.0 364.5L1437.2 373.2L1431.0 373.2"/>
<path d="M1431.0 373.2L1437.2 373.2L1441.0 364.5L1451.0 368.2L1449.8 374.5L1442.2 375.8L1444.8 389.5L1431.0 392.0"/>
<path d="M1431.0 392.0L1444.8 389.5L1449.8 399.5L1452.2 409.5L1431.0 410.8"/>
<path d="M1431.0 410.8L1452.2 409.5L1456.0 427.0L1461.0 434.5L1451.0 437.0L1436.0 438.2L1431.0 435.8"/>
<path d="M1431.0 435.8L1436.0 438.2L1451.0 437.0L1457.2 438.2L1459.8 448.2L1454.8 448.2L1456.0 464.5L1468.5 465.8L1466.0 477.0L1431.0 477.0"/>
<path d="M1454.8 448.2L1459.8 448.2L1466.0 454.5L1468.5 459.5L1468.5 465.8L1456.0 464.5L1454.8 448.2"/>
<path d="M1431.0 477.0L1466.0 477.0L1472.2 497.0L1448.5 499.5L1438.5 502.0L1431.0 493.2"/>
<path d="M1449.0 493.2L1452.8 491.0L1468.5 491.5L1470.5 494.5L1469.0 496.5L1469.5 504.8L1464.0 501.0L1448.5 501.0L1449.0 493.2"/>
<path d="M1431.0 493.2L1438.5 502.0L1439.8 514.5L1442.2 517.0L1438.5 522.0L1438.5 538.2L1431.0 538.2"/>
<path d="M1438.5 502.0L1449.8 502.0L1463.5 502.0L1471.0 507.0L1477.2 532.0L1476.0 537.0L1471.0 538.2L1448.5 538.2L1447.2 542.0L1446.0 538.2L1438.5 538.2L1438.5 522.0L1442.2 517.0L1439.8 514.5L1438.5 502.0"/>
<path d="M1431.0 538.2L1446.0 538.2L1447.2 542.0L1448.5 538.2L1457.2 538.2L1457.2 584.5L1431.0 584.5"/>
<path d="M1457.2 538.2L1471.0 538.2L1476.0 537.0L1483.5 547.0L1492.2 564.5L1476.0 565.8L1458.5 565.8L1457.2 538.2"/>
<path d="M1458.5 565.8L1476.0 565.8L1492.2 564.5L1498.5 577.0L1501.0 583.2L1482.2 585.8L1458.5 584.5L1458.5 565.8"/>
<path d="M1457.2 584.5L1482.2 585.8L1501.0 583.2L1503.5 583.2L1501.0 593.2L1496.0 595.8L1493.5 618.2L1458.5 620.8L1457.2 584.5"/>
<path d="M1431.0 584.5L1457.2 584.5L1458.5 620.8L1431.0 622.0"/>
<path d="M1496.0 595.8L1501.0 593.2L1507.2 602.0L1513.5 612.0L1519.8 622.0M1493.5 622.0L1493.5 618.2L1496.0 595.8"/>
<path d="M1465.0 455.0L1469.0 459.0L1478.5 456.5L1479.0 460.0L1472.0 461.5L1469.0 464.0L1465.0 462.0L1465.0 455.0"/>
<path d="M1201.0 622.0L1203.5 632.0L1204.8 649.5L1196.0 650.8L1201.0 658.2L1202.2 664.5L1213.5 663.2L1187.2 687.0L1188.5 699.5L1196.0 700.8L1194.8 705.8L1187.2 707.0L1208.5 717.0L1188.5 718.2L1187.2 737.0L1176.0 737.0L1176.0 747.0L1187.2 748.2L1192.2 757.0L1191.0 763.2L1181.0 764.5L1171.0 772.0L1139.8 774.5L1137.2 780.8L1127.2 780.8L1124.8 774.5L1104.8 775.8L1096.0 785.8L1084.8 784.5L1081.0 780.8L1081.0 758.2L1064.8 759.5L1062.2 767.0L1053.5 769.5L1051.0 755.8L1078.5 735.8L1081.0 727.0L1066.0 730.8L1057.2 729.5L1068.5 728.2L1071.0 719.5L1076.0 722.0L1081.0 714.5L1097.2 710.8L1104.8 714.5L1108.5 708.2L1106.0 700.8L1089.8 702.0L1086.0 693.2L1096.0 685.8L1113.5 684.5L1114.8 695.8L1122.2 694.5L1123.5 698.2L1132.2 697.0L1133.5 683.2L1137.2 680.8L1136.0 669.5L1144.8 659.5L1146.0 637.0L1158.5 635.8L1159.8 622.0"/>
<path d="M1053.5 769.5L1062.2 767.0L1064.8 759.5L1081.0 758.2L1081.0 780.8L1084.8 784.5L1096.0 785.8L1094.8 812.0L1098.5 834.5L1106.0 847.0L1106.0 839.5L1111.0 844.5L1116.0 839.5L1118.5 844.5L1126.0 842.0L1136.0 840.8L1141.0 838.2L1139.8 843.2L1131.0 845.8L1126.0 855.8L1118.5 857.0L1117.2 864.5L1112.2 865.8L1116.0 883.2L1103.5 882.0L1111.0 877.0L1092.2 875.8L1091.0 882.0L1083.5 877.0L1066.0 877.0L1058.5 884.5L1034.8 887.0L1031.0 868.2L1026.0 865.8L1033.5 865.8L1038.5 857.0L1041.0 840.8L1046.0 839.5L1049.8 797.0L1053.5 769.5"/>
<path d="M1096.0 785.8L1104.8 775.8L1124.8 774.5L1127.2 780.8L1137.2 780.8L1139.8 774.5L1171.0 772.0L1178.5 782.0L1179.8 790.8L1189.8 792.0L1192.2 847.0L1191.0 859.5L1168.5 863.2L1166.0 877.0L1148.5 872.0L1147.2 883.2L1123.5 884.5L1116.0 883.2L1112.2 865.8L1117.2 864.5L1118.5 857.0L1126.0 855.8L1131.0 845.8L1139.8 843.2L1141.0 838.2L1136.0 840.8L1126.0 842.0L1118.5 844.5L1116.0 839.5L1111.0 844.5L1106.0 839.5L1106.0 847.0L1098.5 834.5L1094.8 812.0L1096.0 785.8"/>
<path d="M1147.2 883.2L1148.5 872.0L1166.0 877.0L1168.5 863.2L1191.0 859.5L1192.2 892.0M1147.2 892.0L1147.2 883.2"/>
<path d="M1248.5 622.0L1241.0 634.5L1222.2 652.0L1204.8 653.2L1204.8 649.5L1203.5 632.0L1201.0 622.0"/>
<path d="M1196.0 650.8L1204.8 653.2L1222.2 652.0L1241.0 634.5L1248.5 652.0L1246.0 654.5L1246.0 679.5L1248.5 694.5L1242.2 699.5L1242.2 718.2L1224.8 717.0L1208.5 717.0L1187.2 707.0L1194.8 705.8L1196.0 700.8L1188.5 699.5L1187.2 687.0L1213.5 663.2L1202.2 664.5L1201.0 658.2L1196.0 650.8"/>
<path d="M1241.0 634.5L1248.5 622.0M1274.8 622.0L1276.0 647.0L1279.8 659.5L1273.5 654.5L1263.5 652.0L1262.2 660.8L1254.8 659.5L1253.5 652.0L1248.5 652.0L1241.0 634.5"/>
<path d="M1294.8 622.0L1296.0 637.0L1294.8 659.5L1301.0 662.0L1297.2 675.8L1297.2 680.8L1308.5 684.5L1311.0 688.2L1297.2 702.0L1286.0 708.2L1282.2 697.0L1286.0 689.5L1286.0 669.5L1279.8 659.5L1276.0 647.0L1274.8 622.0"/>
<path d="M1348.5 622.0L1348.5 632.0L1298.5 637.0L1296.0 637.0L1294.8 622.0"/>
<path d="M1296.0 637.0L1298.5 637.0L1348.5 632.0L1349.8 659.5L1301.0 662.0L1294.8 659.5L1296.0 637.0"/>
<path d="M1431.0 629.5L1403.5 630.8L1403.5 658.2L1349.8 659.5L1348.5 622.0"/>
<path d="M1301.0 662.0L1349.8 659.5L1351.0 668.2L1367.2 668.2L1368.5 713.2L1339.8 714.5L1338.5 722.0L1333.5 722.0L1332.2 697.0L1322.2 695.8L1323.5 689.5L1313.5 688.2L1311.0 678.2L1308.5 684.5L1297.2 680.8L1297.2 675.8L1301.0 662.0"/>
<path d="M1246.0 654.5L1248.5 652.0L1253.5 652.0L1254.8 659.5L1262.2 660.8L1263.5 652.0L1273.5 654.5L1279.8 659.5L1286.0 669.5L1286.0 689.5L1282.2 697.0L1266.0 689.5L1264.8 680.8L1246.0 679.5L1246.0 654.5"/>
<path d="M1246.0 679.5L1264.8 680.8L1266.0 689.5L1282.2 697.0L1286.0 708.2L1287.2 727.0L1278.5 724.5L1242.2 718.2L1242.2 699.5L1248.5 694.5L1246.0 679.5"/>
<path d="M1286.0 708.2L1297.2 702.0L1311.0 688.2L1313.5 688.2L1323.5 689.5L1322.2 695.8L1332.2 697.0L1333.5 722.0L1318.5 714.5L1314.8 729.5L1287.2 727.0L1286.0 708.2"/>
<path d="M1318.5 714.5L1333.5 722.0L1338.5 722.0L1339.8 714.5L1368.5 713.2L1351.0 722.0L1389.8 720.8L1391.0 732.0L1418.5 730.8L1418.5 733.2L1398.5 734.5L1393.5 749.5L1381.0 749.5L1386.0 762.0L1363.5 763.2L1331.0 744.5L1314.8 729.5L1318.5 714.5"/>
<path d="M1367.2 668.2L1351.0 668.2L1349.8 659.5L1403.5 658.2L1408.5 667.0L1431.0 684.5M1431.0 730.8L1418.5 730.8L1391.0 732.0L1389.8 720.8L1351.0 722.0L1368.5 713.2L1367.2 668.2"/>
<path d="M1403.5 630.8L1431.0 629.5M1431.0 684.5L1408.5 667.0L1403.5 658.2L1403.5 630.8"/>
<path d="M1188.5 718.2L1208.5 717.0L1224.8 717.0L1242.2 718.2L1278.5 724.5L1281.0 734.5L1284.8 757.0L1279.8 764.5L1276.0 769.5L1273.5 763.2L1259.8 764.5L1236.0 763.2L1233.5 772.0L1219.8 772.0L1216.0 763.2L1191.0 763.2L1192.2 757.0L1187.2 748.2L1176.0 747.0L1176.0 737.0L1187.2 737.0L1188.5 718.2"/>
<path d="M1278.5 724.5L1287.2 727.0L1314.8 729.5L1331.0 744.5L1332.2 768.2L1328.5 769.5L1326.0 775.8L1306.0 774.5L1298.5 770.8L1297.2 762.0L1291.0 765.8L1286.0 764.5L1279.8 764.5L1284.8 757.0L1281.0 734.5L1278.5 724.5"/>
<path d="M1331.0 744.5L1363.5 763.2L1373.5 782.0L1348.5 787.0L1343.5 780.8L1336.0 779.5L1328.5 769.5L1332.2 768.2L1331.0 744.5"/>
<path d="M1361.0 764.5L1394.8 763.2L1388.5 785.8L1376.0 785.8L1373.5 782.0L1361.0 764.5"/>
<path d="M1386.0 762.0L1381.0 749.5L1393.5 749.5L1398.5 734.5L1418.5 733.2L1413.5 747.0L1426.0 758.2L1423.5 777.0L1411.0 792.0L1406.0 778.2L1398.5 777.0L1398.5 788.2L1388.5 785.8L1394.8 763.2L1386.0 762.0"/>
<path d="M1418.5 733.2L1431.0 730.8M1431.0 758.2L1426.0 758.2L1413.5 747.0L1418.5 733.2"/>
<path d="M1236.0 763.2L1259.8 764.5L1273.5 763.2L1276.0 769.5L1286.0 764.5L1291.0 765.8L1297.2 762.0L1298.5 770.8L1301.0 784.5L1304.8 794.5L1301.0 802.0L1306.0 807.0L1303.5 822.0L1273.5 824.5L1271.0 832.0L1263.5 824.5L1249.8 823.2L1226.0 825.8L1217.2 825.8L1217.2 787.0L1226.0 785.8L1226.0 780.8L1233.5 772.0L1236.0 763.2"/>
<path d="M1171.0 772.0L1181.0 764.5L1191.0 763.2L1216.0 763.2L1219.8 772.0L1233.5 772.0L1226.0 780.8L1226.0 785.8L1217.2 787.0L1217.2 825.8L1226.0 825.8L1249.8 823.2L1249.8 844.5L1236.0 845.8L1234.8 863.2L1227.2 864.5L1228.5 882.0L1216.0 887.0L1209.8 882.0L1208.5 887.0L1198.5 885.8L1192.2 892.0L1192.2 847.0L1189.8 792.0L1179.8 790.8L1178.5 782.0L1171.0 772.0"/>
<path d="M1249.8 823.2L1263.5 824.5L1271.0 832.0L1272.2 887.0L1283.5 888.2L1283.5 892.0L1246.0 887.0L1237.2 885.8L1228.5 882.0L1227.2 864.5L1234.8 863.2L1236.0 845.8L1249.8 844.5L1249.8 823.2"/>
<path d="M1273.5 824.5L1303.5 822.0L1316.0 824.5L1321.0 829.5L1336.0 839.5L1344.8 834.5L1343.5 847.0L1336.0 852.0L1348.5 857.0L1337.2 859.5L1337.2 868.2L1341.0 892.0M1283.5 892.0L1283.5 888.2L1272.2 887.0L1271.0 832.0L1273.5 824.5"/>
<path d="M1298.5 770.8L1306.0 774.5L1306.0 794.5L1316.0 794.5L1317.2 777.0L1326.0 775.8L1328.5 769.5L1336.0 779.5L1343.5 780.8L1348.5 787.0L1341.0 797.0L1351.0 799.5L1361.0 814.5L1373.5 832.0L1373.5 844.5L1351.0 857.0L1348.5 857.0L1336.0 852.0L1343.5 847.0L1344.8 834.5L1336.0 839.5L1321.0 829.5L1316.0 824.5L1303.5 822.0L1306.0 807.0L1301.0 802.0L1304.8 794.5L1301.0 784.5L1298.5 770.8"/>
<path d="M1316.0 777.0L1326.0 775.8L1348.5 787.0L1373.5 782.0L1376.0 785.8L1388.5 785.8L1391.0 797.0L1381.0 804.5L1401.0 807.0L1406.0 819.5L1418.5 824.5L1421.0 832.0L1431.0 832.0M1431.0 844.5L1373.5 844.5L1373.5 832.0L1361.0 814.5L1351.0 799.5L1341.0 797.0L1336.0 792.0L1317.2 794.5L1316.0 777.0"/>
<path d="M1401.0 807.0L1411.0 797.0L1423.5 782.0L1431.0 787.0M1431.0 832.0L1421.0 832.0L1418.5 824.5L1406.0 819.5L1401.0 807.0"/>
<path d="M1388.5 785.8L1398.5 788.2L1398.5 777.0L1406.0 778.2L1411.0 792.0L1411.0 797.0L1401.0 807.0L1381.0 804.5L1391.0 797.0L1388.5 785.8"/>
<path d="M1351.0 857.0L1373.5 844.5L1383.5 845.8L1378.5 857.0L1386.0 864.5L1386.0 872.0L1376.0 874.5L1376.0 892.0M1341.0 892.0L1337.2 868.2L1337.2 859.5L1348.5 857.0L1351.0 857.0"/>
<path d="M1383.5 845.8L1431.0 844.5M1431.0 855.8L1418.5 857.0L1408.5 854.5L1403.5 868.2L1401.0 872.0L1391.0 882.0L1389.8 892.0M1376.0 892.0L1376.0 874.5L1386.0 872.0L1386.0 864.5L1378.5 857.0L1383.5 845.8"/>
<path d="M1408.5 854.5L1418.5 857.0L1431.0 855.8M1389.8 892.0L1391.0 882.0L1401.0 872.0L1403.5 868.2L1408.5 854.5"/>
<path d="M1457.2 622.0L1457.2 629.5L1431.0 629.5"/>
<path d="M1431.0 629.5L1457.2 629.5L1458.5 675.8L1442.2 675.8L1441.0 724.5L1442.2 739.5L1431.0 739.5"/>
<path d="M1494.8 622.0L1494.8 638.2L1494.8 675.8L1462.2 675.8L1461.0 683.2L1458.5 675.8L1457.2 629.5L1457.2 622.0"/>
<path d="M1519.8 622.0L1527.2 628.2L1534.8 630.8L1536.0 635.8L1533.5 638.2L1494.8 637.0L1494.8 622.0"/>
<path d="M1494.8 638.2L1533.5 638.2L1536.0 635.8L1544.8 642.0L1547.2 654.5L1551.0 667.0L1552.8 682.0L1552.8 733.2L1517.2 739.5L1513.5 723.2L1503.5 722.0L1503.5 707.0L1494.8 693.2L1494.8 638.2"/>
<path d="M1442.2 675.8L1458.5 675.8L1461.0 683.2L1462.2 675.8L1494.8 675.8L1494.8 693.2L1486.0 704.5L1481.0 722.0L1484.8 739.5L1492.2 752.0L1466.0 753.2L1442.2 755.8L1442.2 739.5L1441.0 724.5L1442.2 675.8"/>
<path d="M1494.8 693.2L1503.5 707.0L1503.5 722.0L1513.5 723.2L1517.2 739.5L1506.0 752.0L1513.5 772.0L1502.2 773.2L1498.5 760.8L1492.2 752.0L1484.8 739.5L1481.0 722.0L1486.0 704.5L1494.8 693.2"/>
<path d="M1517.2 739.5L1552.8 733.2L1552.8 792.0L1538.5 777.0L1537.2 788.2L1516.0 789.5L1513.5 772.0L1506.0 752.0L1517.2 739.5"/>
<path d="M1502.2 773.2L1513.5 772.0L1516.0 789.5L1537.2 788.2L1538.5 777.0L1552.8 792.0L1552.8 839.5L1551.0 849.5L1541.0 844.5L1536.0 837.0L1521.0 834.5L1519.8 844.5L1513.5 842.0L1512.2 827.0L1519.8 825.8L1519.8 814.5L1511.0 809.5L1504.8 817.0L1502.2 808.2L1506.0 803.2L1501.0 802.0L1501.0 780.8L1502.2 773.2"/>
<path d="M1431.0 739.5L1442.2 739.5L1442.2 755.8L1466.0 753.2L1492.2 752.0L1498.5 760.8L1502.2 773.2L1501.0 780.8L1492.2 778.2L1491.0 769.5L1484.8 769.5L1483.5 774.5L1477.2 773.2L1476.0 775.8L1464.8 773.2L1463.5 789.5L1449.8 792.0L1431.0 785.8"/>
<path d="M1463.5 789.5L1464.8 773.2L1476.0 775.8L1477.2 773.2L1483.5 774.5L1484.8 769.5L1491.0 769.5L1492.2 778.2L1501.0 780.8L1501.0 802.0L1506.0 803.2L1502.2 808.2L1504.8 817.0L1499.8 815.8L1486.0 799.5L1483.5 807.0L1473.5 808.2L1472.2 800.8L1452.2 799.5L1449.8 792.0L1463.5 789.5"/>
<path d="M1431.0 785.8L1449.8 792.0L1452.2 799.5L1458.5 809.5L1457.2 819.5L1452.2 822.0L1454.8 833.2L1451.0 837.0L1449.8 848.2L1442.2 854.5L1437.2 847.0L1431.0 852.0"/>
<path d="M1452.2 799.5L1472.2 800.8L1473.5 808.2L1483.5 807.0L1486.0 799.5L1499.8 815.8L1504.8 817.0L1511.0 809.5L1519.8 814.5L1519.8 825.8L1512.2 827.0L1513.5 842.0L1519.8 844.5L1514.8 854.5L1497.2 857.0L1497.2 879.5L1486.0 883.2L1477.2 887.0L1471.0 882.0L1458.5 879.5L1457.2 868.2L1448.5 862.0L1449.8 848.2L1451.0 837.0L1454.8 833.2L1452.2 822.0L1457.2 819.5L1458.5 809.5L1452.2 799.5"/>
<path d="M1483.5 808.2L1492.2 808.2L1492.2 818.2L1483.5 818.2L1483.5 808.2"/>
<path d="M1458.5 854.5L1497.2 857.0L1497.2 879.5L1486.0 883.2L1477.2 887.0L1471.0 882.0L1458.5 879.5L1457.2 868.2L1458.5 854.5"/>
<path d="M1497.2 857.0L1514.8 854.5L1519.8 844.5L1521.0 834.5L1536.0 837.0L1541.0 844.5L1551.0 849.5L1552.8 892.0M1511.0 892.0L1511.0 882.0L1502.2 882.0L1502.2 887.0L1486.0 883.2L1497.2 879.5L1497.2 857.0"/>
<path d="M1431.0 852.0L1437.2 847.0L1442.2 854.5L1449.8 848.2L1448.5 862.0L1457.2 868.2L1458.5 879.5L1471.0 882.0L1477.2 887.0L1486.0 883.2L1502.2 887.0L1502.2 892.0"/>
<path d="M1431.0 854.5L1443.5 858.2L1446.0 862.0L1431.0 863.2"/>
<path d="M1147.2 869.5L1151.0 873.2L1166.0 877.0L1166.0 862.0M1191.0 862.0L1192.2 879.5L1198.5 885.8L1206.0 887.0L1211.0 883.2L1217.2 887.0L1238.5 887.0L1243.5 885.8L1281.0 889.5L1283.5 893.2L1278.5 895.8L1277.2 903.2L1266.0 904.5L1264.8 912.0L1251.0 914.5L1247.2 918.2L1242.2 924.5L1228.5 927.0L1227.2 930.8L1216.0 934.5L1214.8 948.2L1212.2 949.5L1211.0 963.2L1204.8 957.0L1201.0 960.8L1194.8 962.0L1194.8 948.2L1198.5 947.0L1198.5 935.8L1194.8 934.5L1193.5 918.2L1188.5 913.2L1184.8 915.8L1183.5 923.2L1176.0 924.5L1174.8 912.0L1161.0 910.8L1158.5 900.8L1143.5 903.2L1138.5 894.5L1147.2 893.2L1147.2 869.5"/>
<path d="M1228.5 862.0L1227.2 879.5L1237.2 880.8L1238.5 887.0L1217.2 887.0L1211.0 883.2L1206.0 887.0L1198.5 885.8L1192.2 879.5L1191.0 862.0"/>
<path d="M1272.2 862.0L1273.5 880.8L1283.5 883.2L1283.5 889.5L1281.0 889.5L1243.5 885.8L1238.5 887.0L1237.2 880.8L1227.2 879.5L1228.5 862.0"/>
<path d="M1376.0 862.0L1376.0 889.5L1374.8 910.8L1357.2 909.5L1357.2 905.8L1338.5 907.0L1338.5 900.8L1322.2 900.8L1321.0 915.8L1312.2 915.8L1311.0 904.5L1302.2 904.5L1301.0 889.5L1283.5 889.5L1283.5 883.2L1273.5 880.8L1272.2 862.0"/>
<path d="M1283.5 893.2L1283.5 889.5L1301.0 889.5L1302.2 904.5L1288.5 907.0L1283.5 912.0L1274.8 915.8L1272.2 922.0L1268.5 915.8L1251.0 914.5L1264.8 912.0L1266.0 904.5L1277.2 903.2L1278.5 895.8L1283.5 893.2"/>
<path d="M1211.0 963.2L1212.2 949.5L1214.8 948.2L1216.0 934.5L1227.2 930.8L1228.5 927.0L1242.2 924.5L1247.2 918.2L1251.0 914.5L1268.5 915.8L1272.2 922.0L1274.8 915.8L1283.5 912.0L1288.5 907.0L1302.2 904.5L1311.0 904.5L1312.2 915.8L1303.5 919.5L1311.0 932.0L1313.5 945.8L1311.0 954.5L1303.5 955.8L1304.8 982.0L1319.8 990.8L1306.0 992.0L1306.0 999.0M1194.8 999.0L1194.8 962.0L1201.0 960.8L1204.8 957.0L1211.0 963.2"/>
<path d="M1303.5 919.5L1312.2 915.8L1321.0 915.8L1322.2 900.8L1338.5 900.8L1338.5 907.0L1357.2 905.8L1357.2 909.5L1374.8 910.8L1376.0 945.8L1388.5 947.0L1388.5 954.5L1396.0 955.8L1396.0 959.5L1388.5 959.5L1388.5 963.2L1367.2 963.2L1366.0 960.8L1334.8 965.8L1333.5 972.0L1324.8 973.2L1321.0 977.0L1319.8 990.8L1304.8 982.0L1303.5 955.8L1311.0 954.5L1313.5 945.8L1311.0 932.0L1303.5 919.5"/>
<path d="M1376.0 890.8L1401.0 889.5L1421.0 892.0L1422.2 900.8L1431.0 902.0M1431.0 918.2L1424.8 918.2L1423.5 922.0L1419.8 918.2L1376.0 918.2L1376.0 890.8"/>
<path d="M1376.0 918.2L1419.8 918.2L1423.5 922.0L1424.8 918.2L1431.0 918.2M1431.0 962.0L1413.5 959.5L1412.2 948.2L1388.5 947.0L1376.0 945.8L1376.0 918.2"/>
<path d="M1408.5 862.0L1398.5 869.5L1388.5 880.8L1388.5 889.5L1376.0 890.8L1376.0 862.0"/>
<path d="M1431.0 902.0L1422.2 900.8L1421.0 892.0L1401.0 889.5L1388.5 889.5L1388.5 880.8L1398.5 869.5L1408.5 862.0"/>
<path d="M1319.8 990.8L1321.0 977.0L1324.8 973.2L1333.5 972.0L1334.8 965.8L1366.0 960.8L1367.2 963.2L1386.0 963.2L1387.2 999.0M1306.0 999.0L1306.0 992.0L1319.8 990.8"/>
<path d="M1386.0 963.2L1388.5 959.5L1396.0 959.5L1396.0 955.8L1388.5 954.5L1388.5 947.0L1412.2 948.2L1413.5 959.5L1431.0 962.0M1387.2 999.0L1386.0 963.2"/>
<path d="M1418.5 982.0L1431.0 969.5M1411.0 999.0L1418.5 982.0"/>
<path d="M1446.0 877.0L1457.2 875.8L1468.5 879.5L1471.0 887.0L1478.5 882.0L1487.2 885.8L1493.5 895.8L1502.2 897.0L1514.8 893.2L1538.5 897.0L1541.0 903.2L1552.8 902.0L1552.8 972.0L1546.0 974.5L1544.8 985.8L1532.2 987.0L1528.5 982.0L1523.5 992.0L1502.2 990.8L1501.0 982.0L1484.8 972.0L1461.0 975.8L1458.5 982.0L1439.8 984.5L1438.5 999.0M1431.0 903.2L1446.0 903.2L1447.2 894.5L1443.5 889.5L1446.0 877.0"/>
<path d="M1458.5 862.0L1457.2 875.8L1446.0 877.0L1443.5 889.5L1447.2 894.5L1446.0 903.2L1431.0 903.2"/>
<path d="M1497.2 862.0L1496.0 874.5L1487.2 885.8L1478.5 882.0L1471.0 887.0L1468.5 879.5L1457.2 875.8L1458.5 862.0"/>
<path d="M1552.8 862.0L1552.8 902.0L1541.0 903.2L1538.5 897.0L1514.8 893.2L1511.0 887.0L1511.0 880.8L1502.2 882.0L1502.2 897.0L1493.5 895.8L1487.2 885.8L1496.0 874.5L1497.2 862.0"/>
<path d="M1431.0 903.2L1446.0 903.2L1452.2 914.5L1463.5 918.2L1483.5 909.5L1492.2 909.5L1491.0 922.0L1498.5 924.5L1499.8 972.0L1484.8 972.0L1461.0 975.8L1458.5 982.0L1439.8 984.5L1438.5 999.0"/>
<path d="M1438.5 999.0L1439.8 984.5L1458.5 982.0L1461.0 975.8L1484.8 972.0L1501.0 982.0L1502.2 990.8L1523.5 992.0L1528.5 982.0L1532.2 987.0L1544.8 985.8L1546.0 974.5L1552.8 972.0L1552.8 999.0"/>
<path d="M1464.8 992.0L1502.2 990.8L1523.5 992.0L1552.8 990.8L1552.8 999.0M1464.8 999.0L1464.8 992.0"/>
</g>
<path d="M1552.700 628V1000" stroke="#c4c0c0" stroke-width="1.800" stroke-dasharray="15 3.500 4 3.500" fill="none"/>
<path d="M1553 627.300H1766" stroke="#c4c0c0" stroke-width="1.800" stroke-dasharray="15 3.500 4 3.500" fill="none"/>
<g font-family="Liberation Sans, sans-serif" lengthAdjust="spacingAndGlyphs">
<text x="828.5" y="284.5" font-size="15.5" textLength="32.0" lengthAdjust="spacingAndGlyphs" fill="none" stroke="#fff" stroke-opacity=".88" stroke-width="2.600" stroke-linejoin="round">Elgin</text>
<text x="828.5" y="284.5" font-size="15.5" textLength="32.0" lengthAdjust="spacingAndGlyphs" fill="#141414" stroke="#141414" stroke-width=".35">Elgin</text>
<text x="985.2" y="289.0" font-size="15.5" textLength="87.8" lengthAdjust="spacingAndGlyphs" fill="none" stroke="#fff" stroke-opacity=".88" stroke-width="2.600" stroke-linejoin="round">Schaumburg</text>
<text x="985.2" y="289.0" font-size="15.5" textLength="87.8" lengthAdjust="spacingAndGlyphs" fill="#141414" stroke="#141414" stroke-width=".35">Schaumburg</text>
<text x="1094.2" y="220.8" font-size="15.5" textLength="63.0" lengthAdjust="spacingAndGlyphs" fill="none" stroke="#fff" stroke-opacity=".88" stroke-width="2.600" stroke-linejoin="round">Arlington</text>
<text x="1094.2" y="220.8" font-size="15.5" textLength="63.0" lengthAdjust="spacingAndGlyphs" fill="#141414" stroke="#141414" stroke-width=".35">Arlington</text>
<text x="1099.8" y="237.0" font-size="15.5" textLength="52.5" lengthAdjust="spacingAndGlyphs" fill="none" stroke="#fff" stroke-opacity=".88" stroke-width="2.600" stroke-linejoin="round">Heights</text>
<text x="1099.8" y="237.0" font-size="15.5" textLength="52.5" lengthAdjust="spacingAndGlyphs" fill="#141414" stroke="#141414" stroke-width=".35">Heights</text>
<text x="1131.2" y="314.4" font-size="15.5" textLength="64.5" lengthAdjust="spacingAndGlyphs" fill="none" stroke="#fff" stroke-opacity=".88" stroke-width="2.600" stroke-linejoin="round">Elk Grove</text>
<text x="1131.2" y="314.4" font-size="15.5" textLength="64.5" lengthAdjust="spacingAndGlyphs" fill="#141414" stroke="#141414" stroke-width=".35">Elk Grove</text>
<text x="1140.7" y="330.7" font-size="15.5" textLength="44.0" lengthAdjust="spacingAndGlyphs" fill="none" stroke="#fff" stroke-opacity=".88" stroke-width="2.600" stroke-linejoin="round">Village</text>
<text x="1140.7" y="330.7" font-size="15.5" textLength="44.0" lengthAdjust="spacingAndGlyphs" fill="#141414" stroke="#141414" stroke-width=".35">Village</text>
<text x="1174.3" y="278.8" font-size="15.5" textLength="77.2" lengthAdjust="spacingAndGlyphs" fill="none" stroke="#fff" stroke-opacity=".88" stroke-width="2.600" stroke-linejoin="round">Des Plaines</text>
<text x="1174.3" y="278.8" font-size="15.5" textLength="77.2" lengthAdjust="spacingAndGlyphs" fill="#141414" stroke="#141414" stroke-width=".35">Des Plaines</text>
<text x="1363.5" y="275.8" font-size="15.5" textLength="62.0" lengthAdjust="spacingAndGlyphs" fill="none" stroke="#fff" stroke-opacity=".88" stroke-width="2.600" stroke-linejoin="round">Evanston</text>
<text x="1363.5" y="275.8" font-size="15.5" textLength="62.0" lengthAdjust="spacingAndGlyphs" fill="#141414" stroke="#141414" stroke-width=".35">Evanston</text>
<text x="1425.0" y="489.6" font-size="20" textLength="68.0" lengthAdjust="spacingAndGlyphs" fill="none" stroke="#fff" stroke-opacity=".88" stroke-width="2.600" stroke-linejoin="round">Chicago</text>
<text x="1425.0" y="489.6" font-size="20" textLength="68.0" lengthAdjust="spacingAndGlyphs" fill="#141414" stroke="#141414" stroke-width=".35">Chicago</text>
<text x="1316.5" y="525.8" font-size="15.5" textLength="42.5" lengthAdjust="spacingAndGlyphs" fill="none" stroke="#fff" stroke-opacity=".88" stroke-width="2.600" stroke-linejoin="round">Cicero</text>
<text x="1316.5" y="525.8" font-size="15.5" textLength="42.5" lengthAdjust="spacingAndGlyphs" fill="#141414" stroke="#141414" stroke-width=".35">Cicero</text>
<text x="934.5" y="617.2" font-size="15.5" textLength="69.2" lengthAdjust="spacingAndGlyphs" fill="none" stroke="#fff" stroke-opacity=".88" stroke-width="2.600" stroke-linejoin="round">Naperville</text>
<text x="934.5" y="617.2" font-size="15.5" textLength="69.2" lengthAdjust="spacingAndGlyphs" fill="#141414" stroke="#141414" stroke-width=".35">Naperville</text>
<text x="789.0" y="636.7" font-size="15.5" textLength="47.3" lengthAdjust="spacingAndGlyphs" fill="none" stroke="#fff" stroke-opacity=".88" stroke-width="2.600" stroke-linejoin="round">Aurora</text>
<text x="789.0" y="636.7" font-size="15.5" textLength="47.3" lengthAdjust="spacingAndGlyphs" fill="#141414" stroke="#141414" stroke-width=".35">Aurora</text>
<text x="1011.0" y="926.5" font-size="15.5" textLength="35.0" lengthAdjust="spacingAndGlyphs" fill="none" stroke="#fff" stroke-opacity=".88" stroke-width="2.600" stroke-linejoin="round">Joliet</text>
<text x="1011.0" y="926.5" font-size="15.5" textLength="35.0" lengthAdjust="spacingAndGlyphs" fill="#141414" stroke="#141414" stroke-width=".35">Joliet</text>
<text x="1518.5" y="811.5" font-size="15.5" textLength="72.5" lengthAdjust="spacingAndGlyphs" fill="none" stroke="#fff" stroke-opacity=".88" stroke-width="2.600" stroke-linejoin="round">Hammond</text>
<text x="1518.5" y="811.5" font-size="15.5" textLength="72.5" lengthAdjust="spacingAndGlyphs" fill="#141414" stroke="#141414" stroke-width=".35">Hammond</text>
<text x="1712.2" y="830.8" font-size="15.5" textLength="31.2" lengthAdjust="spacingAndGlyphs" fill="none" stroke="#fff" stroke-opacity=".88" stroke-width="2.600" stroke-linejoin="round">Gary</text>
<text x="1712.2" y="830.8" font-size="15.5" textLength="31.2" lengthAdjust="spacingAndGlyphs" fill="#141414" stroke="#141414" stroke-width=".35">Gary</text>
<text x="1421.3" y="942.4" font-size="15.5" textLength="54.1" lengthAdjust="spacingAndGlyphs" fill="none" stroke="#fff" stroke-opacity=".88" stroke-width="2.600" stroke-linejoin="round">Chicago</text>
<text x="1421.3" y="942.4" font-size="15.5" textLength="54.1" lengthAdjust="spacingAndGlyphs" fill="#141414" stroke="#141414" stroke-width=".35">Chicago</text>
<text x="1421.9" y="958.7" font-size="15.5" textLength="52.6" lengthAdjust="spacingAndGlyphs" fill="none" stroke="#fff" stroke-opacity=".88" stroke-width="2.600" stroke-linejoin="round">Heights</text>
<text x="1421.9" y="958.7" font-size="15.5" textLength="52.6" lengthAdjust="spacingAndGlyphs" fill="#141414" stroke="#141414" stroke-width=".35">Heights</text>
<text x="1578.0" y="984.5" font-size="15.5" textLength="79.8" lengthAdjust="spacingAndGlyphs" fill="none" stroke="#fff" stroke-opacity=".88" stroke-width="2.600" stroke-linejoin="round">Schererville</text>
<text x="1578.0" y="984.5" font-size="15.5" textLength="79.8" lengthAdjust="spacingAndGlyphs" fill="#141414" stroke="#141414" stroke-width=".35">Schererville</text>
<text x="1696.0" y="979.5" font-size="15.5" textLength="76.0" lengthAdjust="spacingAndGlyphs" fill="none" stroke="#fff" stroke-opacity=".88" stroke-width="2.600" stroke-linejoin="round">Merrillville</text>
<text x="1696.0" y="979.5" font-size="15.5" textLength="76.0" lengthAdjust="spacingAndGlyphs" fill="#141414" stroke="#141414" stroke-width=".35">Merrillville</text>
</g>
</svg>
<svg style="position:absolute;left:926px;top:14px" width="112" height="52" viewBox="1636 96 112 52">
<defs>
<clipPath id="lgc"><rect x="1636" y="110.900" width="112" height="40"/></clipPath>
<g id="lg">
 <!-- a -->
 <path fill-rule="evenodd" d="M1644.050 121.600a12.200 11.250 0 1 0 24.400 0a12.200 11.250 0 1 0 -24.400 0zM1650.550 121.700a5.700 5.700 0 1 0 11.400 0a5.700 5.700 0 1 0 -11.400 0z"/>
 <rect x="1663.700" y="110.900" width="6.100" height="21.150"/>
 <!-- r -->
 <rect x="1672.900" y="110.900" width="6.100" height="21.150"/>
 <path d="M1678.500 113.700Q1681 110.900 1686.700 110.900V116.900Q1679 116.900 1679 124H1676Z"/>
 <!-- i -->
 <path d="M1690.100 110.900H1696.300V124.500Q1696.300 126.500 1698.800 126.700V132.400Q1690.100 133.200 1690.100 124.800Z"/>
 <circle cx="1693.350" cy="105.500" r="3.550"/>
 <!-- t -->
 <path d="M1699.300 110.900H1712.900V116.900H1708V124.200Q1708 126.500 1712.600 126.700V132.400Q1701.750 133.300 1701.750 124.600V116.900H1699.300Z"/>
 <circle cx="1705.300" cy="105.500" r="3.550"/>
 <!-- y -->
 <g clip-path="url(#lgc)">
  <path d="M1715.800 110.900H1722L1727.600 124.600L1732.900 110.900H1739.100L1729.300 136.200Q1727.200 141.900 1722 141.900H1718.800V136.400H1721.500Q1723.300 136.400 1724.100 134.300L1724.600 133Z"/>
 </g>
</g>
</defs>
<use href="#lg" fill="#fff" stroke="#fff" stroke-width="2.200" stroke-linejoin="round" opacity=".95"/>
<use href="#lg" fill="#00176a"/>
</svg>

<div class="ov" style="left:25px;top:18px;width:383px;height:43px;border-radius:22px;"></div>
<svg style="position:absolute;left:39.500px;top:31.800px" width="11" height="16" viewBox="0 0 11 16"><path d="M5.500 0.300C2.600 0.300 0.400 2.500 0.400 5.400c0 3.700 5.100 9.800 5.100 9.800s5.100-6.100 5.100-9.800C10.600 2.500 8.400 0.300 5.500 0.300z" fill="#9b9b9b"/><circle cx="5.500" cy="5.300" r="1.800" fill="#fff"/></svg>
<svg style="position:absolute;left:375.500px;top:34px" width="12" height="12" viewBox="0 0 12 12"><path d="M0.800 0.800L11.200 11.200M11.200 0.800L0.800 11.200" stroke="#8e8e8e" stroke-width="1.300" fill="none"/></svg>
<div class="ov" style="left:417px;top:19px;width:157px;height:41px;border-radius:21px;"></div>
<svg style="position:absolute;left:540px;top:36px" width="13" height="8" viewBox="0 0 13 8"><path d="M0.800 0.800L6.500 6.600L12.200 0.800" stroke="#9aa1ab" stroke-width="1.500" fill="none"/></svg>
<div class="ov" style="left:25.500px;top:822px;width:163.500px;height:68px;border-radius:7px;box-shadow:0 1px 7px rgba(0,0,0,.15);"></div>
<div class="grad" style="left:33.700px;top:866.600px"><span style="left:6px">0</span><span style="right:5px">10</span></div>
<div class="btn" style="left:888px;top:853px;width:140px;height:37px;border-radius:19px;"></div>
<svg style="position:absolute;left:901px;top:863px" width="17" height="17" viewBox="0 0 17 17"><path d="M1 5.200V2.500Q1 1 2.500 1H5.200M11.800 1H14.500Q16 1 16 2.500V5.200M16 11.800V14.500Q16 16 14.500 16H11.800M5.200 16H2.500Q1 16 1 14.500V11.800" stroke="#fff" stroke-width="1.500" fill="none"/><circle cx="8.500" cy="8.500" r="3.500" fill="#fff"/></svg>
<div class="t" id="srch" style="left:59.40px;top:30.48px;font-size:16.5px;line-height:21px;color:#5f6b7a;transform:scaleX(0.9782);transform-origin:0 0;">Cook County, Illinois USA</div>
<div class="t" id="period" style="left:431.25px;top:30.73px;font-size:15.5px;line-height:19px;color:#5f6b7a;transform:scaleX(0.9619);transform-origin:0 0;">This Month</div>
<div class="t" id="dsc" style="left:34.50px;top:830.74px;font-size:12.3px;line-height:15px;color:#7c8b9b;transform:scaleX(0.9522);transform-origin:0 0;">DRIVING SCORES</div>
<div class="t" id="cap" style="left:926.80px;top:862.60px;font-size:15.3px;line-height:19px;color:#fff;transform:scaleX(0.9894);transform-origin:0 0;">Capture map</div>
</div>

<div id="panel">
 <div id="tabs">
  <div id="tabpill"></div>
<div class="t" id="tb1" style="left:25.75px;top:25.06px;font-size:16px;line-height:20px;color:#7c8b9b;transform:scaleX(0.9072);transform-origin:0 0;">Overview</div>
<div class="t" id="tb2" style="left:122.00px;top:25.06px;font-size:16px;line-height:20px;color:#fff;transform:scaleX(0.9370);transform-origin:0 0;">Driving Behavior</div>
<div class="t" id="tb3" style="left:267.50px;top:25.06px;font-size:16px;line-height:20px;color:#7c8b9b;transform:scaleX(0.9064);transform-origin:0 0;">Traffic &amp; Mileage</div>
<div class="t" id="tb4" style="left:397.00px;top:25.06px;font-size:16px;line-height:20px;color:#7c8b9b;transform:scaleX(0.8773);transform-origin:0 0;">Risk Factors</div>
<div class="t" id="tb5" style="left:497.50px;top:25.06px;font-size:16px;line-height:20px;color:#7c8b9b;transform:scaleX(0.8889);transform-origin:0 0;">Migration</div>
  <div id="tabfade"></div>
 </div>
 <div class="hr" style="top:124.500px"></div>
 <div class="pill" style="left:195px;top:162.500px;width:181px;height:43px;"></div>
 <svg style="position:absolute;left:346.500px;top:181px" width="13" height="8" viewBox="0 0 13 8"><path d="M1 1L6.500 6.500L12 1" stroke="#1f1f1f" stroke-width="1.900" fill="none"/></svg>
 <div class="grad" style="left:381px;top:310px"><span style="left:6px">0</span><span style="right:5px">10</span></div>
<svg style="position:absolute;left:0;top:340px" width="555" height="290" viewBox="155 422 555 290">
<path d="M370.63 490.43A53.7 53.7 0 0 1 446.57 566.37Z" fill="#68bb78"/>
<path d="M384.94 517.44A83.8 83.8 0 0 0 503.46 635.96Z" fill="#117a24"/>
<path d="M358.40 478.20A71 71 0 0 1 458.80 578.60" fill="none" stroke="#1e1e1e" stroke-width="1.900" stroke-linecap="round" stroke-dasharray="0.01 3.900"/>
<path d="M402.48 534.98A59 59 0 0 0 485.92 618.42" fill="none" stroke="#fff" stroke-width="2.100" stroke-linecap="round" stroke-dasharray="0.01 4.450"/>
<g stroke="#3a3a3a" stroke-width="1.100" fill="none"><path d="M425.100 511.600H600"/><path d="M229.500 595.600H428.400"/><path d="M414.400 627.700H626.200"/></g>
<g fill="#222"><circle cx="425.100" cy="511.600" r="2.900"/><circle cx="428.400" cy="595.600" r="2.900"/><circle cx="414.400" cy="627.700" r="2.900"/></g>
</svg>
 <div class="btn" style="left:27px;top:660px;width:262px;height:38px;"></div>
 <svg style="position:absolute;left:268.500px;top:673px" width="10" height="13" viewBox="0 0 10 13"><path d="M1.800 1L7.600 6.500L1.800 12" stroke="#fff" stroke-width="1.900" fill="none"/></svg>
 <div class="hr" style="top:745px"></div>
 <div class="pill" style="left:200px;top:782px;width:130px;height:41px;"></div>
 <svg style="position:absolute;left:300.500px;top:800px" width="13" height="8" viewBox="0 0 13 8"><path d="M1 1L6.500 6.500L12 1" stroke="#1f1f1f" stroke-width="1.900" fill="none"/></svg>
<div class="t" id="sel1" style="left:28.75px;top:87.21px;font-size:17px;line-height:21px;color:#7c8b9b;transform:scaleX(0.9807);transform-origin:0 0;">Selected region:</div>
<div class="t" id="sel2" style="left:155.00px;top:87.21px;font-size:17px;line-height:21px;color:#1f1f1f;transform:scaleX(1.0045);transform-origin:0 0;">Cook County, Illinois USA</div>
<div class="t" id="h1" style="left:27.50px;top:163.83px;font-size:25.3px;line-height:32px;color:#1f1f1f;transform:scaleX(1.0128);transform-origin:0 0;">Policy holders</div>
<div class="t" id="p1" style="left:210.50px;top:173.61px;font-size:17px;line-height:21px;color:#1f1f1f;transform:scaleX(1.0051);transform-origin:0 0;">Drivesight score</div>
<div class="t" id="para1a" style="left:26.90px;top:219.78px;font-size:16.5px;line-height:21px;color:#7c8b9b;transform:scaleX(1.0139);transform-origin:0 0;">This month, the average Drivesight score of your policy holders in</div>
<div class="t" id="para1b" style="left:26.90px;top:247.28px;font-size:16.5px;line-height:21px;color:#7c8b9b;transform:scaleX(1.0198);transform-origin:0 0;">Cook County is higher than both the state and county average.</div>
<div class="t" id="mon" style="left:27.00px;top:309.94px;font-size:12px;line-height:15px;color:#7c8b9b;transform:scaleX(0.9814);transform-origin:0 0;">Month of February 2024</div>
<div class="t" id="n79" style="left:74.75px;top:444.64px;font-size:43.6px;line-height:54px;color:#222;font-weight:bold;transform:scaleX(0.9734);transform-origin:0 0;">7.9</div>
<div class="t" id="a79" style="left:75.00px;top:495.87px;font-size:11.2px;line-height:14px;color:#b6bec8;transform:scaleX(1.0483);transform-origin:0 0;">Avg. Drivesight score</div>
<div class="t" id="l79" style="left:75.00px;top:518.30px;font-size:11.4px;line-height:14px;color:#5f6b7a;transform:scaleX(0.9708);transform-origin:0 0;">POLICY HOLDERS</div>
<div class="t" id="n33" style="left:381.70px;top:360.29px;font-size:43.6px;line-height:54px;color:#222;font-weight:bold;transform:scaleX(1.0394);transform-origin:0 0;">3.3</div>
<div class="t" id="a33" style="left:334.20px;top:412.12px;font-size:11.2px;line-height:14px;color:#b6bec8;transform:scaleX(1.0483);transform-origin:0 0;">Avg. Drivesight score</div>
<div class="t" id="l33" style="left:359.00px;top:434.35px;font-size:11.4px;line-height:14px;color:#5f6b7a;transform:scaleX(1.0140);transform-origin:0 0;">COOK COUNTY</div>
<div class="t" id="n57" style="left:409.00px;top:476.29px;font-size:43.6px;line-height:54px;color:#222;font-weight:bold;transform:scaleX(1.0262);transform-origin:0 0;">5.7</div>
<div class="t" id="a57" style="left:360.40px;top:528.12px;font-size:11.2px;line-height:14px;color:#b6bec8;transform:scaleX(1.0483);transform-origin:0 0;">Avg. Drivesight score</div>
<div class="t" id="l57" style="left:370.00px;top:550.35px;font-size:11.4px;line-height:14px;color:#2b2b2b;transform:scaleX(0.9729);transform-origin:0 0;">STATE OF ILLINOIS</div>
<div class="t" id="see" style="left:39.50px;top:669.46px;font-size:16px;line-height:20px;color:#fff;transform:scaleX(0.9356);transform-origin:0 0;">See more about Drivesight score</div>
<div class="t" id="h2" style="left:25.40px;top:784.23px;font-size:25.3px;line-height:32px;color:#1f1f1f;transform:scaleX(1.0189);transform-origin:0 0;">Distance while</div>
<div class="t" id="p2" style="left:214.80px;top:793.61px;font-size:17px;line-height:21px;color:#1f1f1f;">Speeding</div>
<div class="t" id="para2a" style="left:25.40px;top:841.48px;font-size:16.5px;line-height:21px;color:#7c8b9b;transform:scaleX(1.0237);transform-origin:0 0;">This month, the occurrence of higher speeds has led to a <span style="color:#1f1f1f">9%</span></div>
<div class="t" id="para2b" style="left:25.40px;top:868.88px;font-size:16.5px;line-height:21px;color:#7c8b9b;transform:scaleX(1.0221);transform-origin:0 0;"><span style="color:#1f1f1f">increase</span> in the distance traveled while speeding, compared to the</div>
<div class="t" id="para2c" style="left:25.40px;top:895.98px;font-size:16.5px;line-height:21px;color:#7c8b9b;">county's average travel speed.</div>
</div>

</div>
</div>
</body>
</html>
